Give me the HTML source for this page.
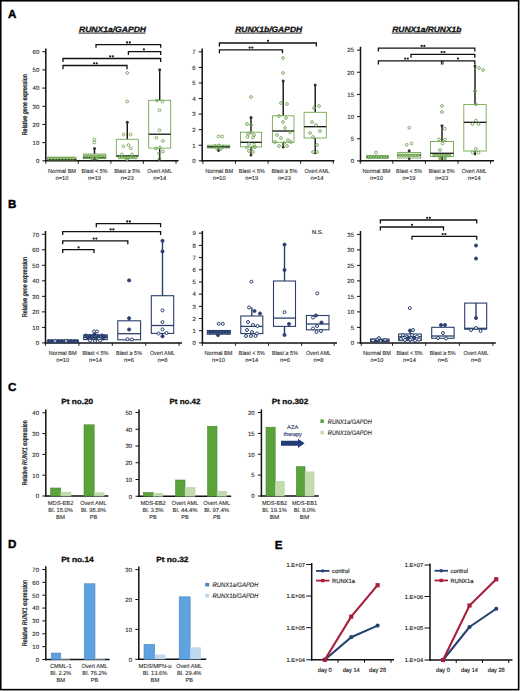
<!DOCTYPE html>
<html><head><meta charset="utf-8"><style>
html,body{margin:0;padding:0;background:#fff;}
svg{display:block;font-family:"Liberation Sans", sans-serif;text-rendering:geometricPrecision;}
</style></head><body>
<svg width="520" height="691" viewBox="0 0 520 691">
<rect width="520" height="691" fill="#fff"/>
<rect x="0.75" y="0.75" width="517.9" height="688.9" fill="none" stroke="#000" stroke-width="1.6"/>
<text x="8.00" y="18.40" font-size="11.6" text-anchor="start" fill="#000" font-weight="bold" font-style="normal" stroke="#000" stroke-width="0.4">A</text>
<text x="112.50" y="31.80" font-size="7.8" text-anchor="middle" fill="#111" font-weight="bold" font-style="italic" textLength="67" lengthAdjust="spacingAndGlyphs" stroke="#111" stroke-width="0.3">RUNX1a/GAPDH</text>
<line x1="78.50" y1="33.10" x2="145.50" y2="33.10" stroke="#111" stroke-width="0.9"/>
<line x1="45.80" y1="48.40" x2="45.80" y2="161.55" stroke="#111" stroke-width="1.5"/>
<line x1="42.30" y1="160.80" x2="45.80" y2="160.80" stroke="#111" stroke-width="1.0"/>
<text x="39.30" y="163.10" font-size="6.0" text-anchor="end" fill="#2a2a2a" font-weight="normal" font-style="normal" stroke="#2a2a2a" stroke-width="0.12">0</text>
<line x1="42.30" y1="142.62" x2="45.80" y2="142.62" stroke="#111" stroke-width="1.0"/>
<text x="39.30" y="144.92" font-size="6.0" text-anchor="end" fill="#2a2a2a" font-weight="normal" font-style="normal" stroke="#2a2a2a" stroke-width="0.12">10</text>
<line x1="42.30" y1="124.44" x2="45.80" y2="124.44" stroke="#111" stroke-width="1.0"/>
<text x="39.30" y="126.74" font-size="6.0" text-anchor="end" fill="#2a2a2a" font-weight="normal" font-style="normal" stroke="#2a2a2a" stroke-width="0.12">20</text>
<line x1="42.30" y1="106.26" x2="45.80" y2="106.26" stroke="#111" stroke-width="1.0"/>
<text x="39.30" y="108.56" font-size="6.0" text-anchor="end" fill="#2a2a2a" font-weight="normal" font-style="normal" stroke="#2a2a2a" stroke-width="0.12">30</text>
<line x1="42.30" y1="88.08" x2="45.80" y2="88.08" stroke="#111" stroke-width="1.0"/>
<text x="39.30" y="90.38" font-size="6.0" text-anchor="end" fill="#2a2a2a" font-weight="normal" font-style="normal" stroke="#2a2a2a" stroke-width="0.12">40</text>
<line x1="42.30" y1="69.90" x2="45.80" y2="69.90" stroke="#111" stroke-width="1.0"/>
<text x="39.30" y="72.20" font-size="6.0" text-anchor="end" fill="#2a2a2a" font-weight="normal" font-style="normal" stroke="#2a2a2a" stroke-width="0.12">50</text>
<line x1="42.30" y1="51.72" x2="45.80" y2="51.72" stroke="#111" stroke-width="1.0"/>
<text x="39.30" y="54.02" font-size="6.0" text-anchor="end" fill="#2a2a2a" font-weight="normal" font-style="normal" stroke="#2a2a2a" stroke-width="0.12">60</text>
<line x1="45.05" y1="160.80" x2="178.60" y2="160.80" stroke="#111" stroke-width="1.5"/>
<line x1="45.80" y1="160.80" x2="45.80" y2="163.80" stroke="#111" stroke-width="0.9"/>
<line x1="78.30" y1="160.80" x2="78.30" y2="163.80" stroke="#111" stroke-width="0.9"/>
<line x1="110.90" y1="160.80" x2="110.90" y2="163.80" stroke="#111" stroke-width="0.9"/>
<line x1="143.40" y1="160.80" x2="143.40" y2="163.80" stroke="#111" stroke-width="0.9"/>
<line x1="176.00" y1="160.80" x2="176.00" y2="163.80" stroke="#111" stroke-width="0.9"/>
<rect x="47.80" y="157.30" width="28.40" height="2.70" fill="none" stroke="#72a852" stroke-width="0.9"/>
<line x1="47.80" y1="159.60" x2="76.20" y2="159.60" stroke="#111" stroke-width="1.3"/>
<line x1="94.50" y1="148.10" x2="94.50" y2="154.00" stroke="#111" stroke-width="1.4"/>
<line x1="94.50" y1="158.60" x2="94.50" y2="160.00" stroke="#111" stroke-width="1.4"/>
<rect x="83.30" y="154.00" width="22.40" height="4.60" fill="none" stroke="#72a852" stroke-width="0.9"/>
<line x1="83.30" y1="157.50" x2="105.70" y2="157.50" stroke="#111" stroke-width="1.3"/>
<circle cx="94.50" cy="148.40" r="1.5" fill="#333"/>
<circle cx="94.50" cy="159.70" r="1.3" fill="#333"/>
<line x1="127.30" y1="122.00" x2="127.30" y2="139.30" stroke="#111" stroke-width="1.4"/>
<line x1="127.30" y1="156.00" x2="127.30" y2="160.00" stroke="#111" stroke-width="1.4"/>
<rect x="116.30" y="139.30" width="22.00" height="16.70" fill="none" stroke="#72a852" stroke-width="0.9"/>
<line x1="116.30" y1="156.00" x2="138.30" y2="156.00" stroke="#111" stroke-width="1.3"/>
<circle cx="127.30" cy="122.30" r="1.5" fill="#333"/>
<circle cx="127.30" cy="159.70" r="1.3" fill="#333"/>
<line x1="159.70" y1="69.40" x2="159.70" y2="100.30" stroke="#111" stroke-width="1.4"/>
<line x1="159.70" y1="148.10" x2="159.70" y2="159.50" stroke="#111" stroke-width="1.4"/>
<rect x="148.70" y="100.30" width="22.00" height="47.80" fill="none" stroke="#72a852" stroke-width="0.9"/>
<line x1="148.70" y1="134.20" x2="170.70" y2="134.20" stroke="#111" stroke-width="1.3"/>
<circle cx="159.70" cy="69.70" r="1.5" fill="#333"/>
<circle cx="159.70" cy="159.20" r="1.3" fill="#333"/>
<circle cx="48.50" cy="158.30" r="1.35" fill="#9ccc7c" stroke="#5f9445" stroke-width="0.8"/>
<circle cx="51.60" cy="158.30" r="1.35" fill="#9ccc7c" stroke="#5f9445" stroke-width="0.8"/>
<circle cx="54.70" cy="158.30" r="1.35" fill="#9ccc7c" stroke="#5f9445" stroke-width="0.8"/>
<circle cx="57.80" cy="158.30" r="1.35" fill="#9ccc7c" stroke="#5f9445" stroke-width="0.8"/>
<circle cx="60.90" cy="158.30" r="1.35" fill="#9ccc7c" stroke="#5f9445" stroke-width="0.8"/>
<circle cx="64.00" cy="158.30" r="1.35" fill="#9ccc7c" stroke="#5f9445" stroke-width="0.8"/>
<circle cx="67.10" cy="158.30" r="1.35" fill="#9ccc7c" stroke="#5f9445" stroke-width="0.8"/>
<circle cx="70.20" cy="158.30" r="1.35" fill="#9ccc7c" stroke="#5f9445" stroke-width="0.8"/>
<circle cx="73.30" cy="158.30" r="1.35" fill="#9ccc7c" stroke="#5f9445" stroke-width="0.8"/>
<circle cx="94.30" cy="139.50" r="1.4" fill="none" stroke="#6c9f50" stroke-width="0.85"/>
<circle cx="94.30" cy="142.50" r="1.4" fill="none" stroke="#6c9f50" stroke-width="0.85"/>
<circle cx="85.50" cy="156.30" r="1.35" fill="#9ccc7c" stroke="#5f9445" stroke-width="0.8"/>
<circle cx="88.20" cy="156.30" r="1.35" fill="#9ccc7c" stroke="#5f9445" stroke-width="0.8"/>
<circle cx="90.90" cy="156.30" r="1.35" fill="#9ccc7c" stroke="#5f9445" stroke-width="0.8"/>
<circle cx="93.60" cy="156.30" r="1.35" fill="#9ccc7c" stroke="#5f9445" stroke-width="0.8"/>
<circle cx="96.30" cy="156.30" r="1.35" fill="#9ccc7c" stroke="#5f9445" stroke-width="0.8"/>
<circle cx="99.00" cy="156.30" r="1.35" fill="#9ccc7c" stroke="#5f9445" stroke-width="0.8"/>
<circle cx="101.70" cy="156.30" r="1.35" fill="#9ccc7c" stroke="#5f9445" stroke-width="0.8"/>
<circle cx="104.40" cy="156.30" r="1.35" fill="#9ccc7c" stroke="#5f9445" stroke-width="0.8"/>
<circle cx="92.00" cy="158.50" r="1.35" fill="#9ccc7c" stroke="#5f9445" stroke-width="0.8"/>
<circle cx="97.00" cy="158.50" r="1.35" fill="#9ccc7c" stroke="#5f9445" stroke-width="0.8"/>
<circle cx="127.20" cy="72.90" r="1.4" fill="none" stroke="#6c9f50" stroke-width="0.85"/>
<circle cx="127.20" cy="101.50" r="1.4" fill="none" stroke="#6c9f50" stroke-width="0.85"/>
<circle cx="123.70" cy="134.50" r="1.4" fill="none" stroke="#6c9f50" stroke-width="0.85"/>
<circle cx="130.50" cy="134.50" r="1.4" fill="none" stroke="#6c9f50" stroke-width="0.85"/>
<circle cx="123.50" cy="146.30" r="1.4" fill="none" stroke="#6c9f50" stroke-width="0.85"/>
<circle cx="128.50" cy="145.10" r="1.4" fill="none" stroke="#6c9f50" stroke-width="0.85"/>
<circle cx="130.70" cy="148.40" r="1.4" fill="none" stroke="#6c9f50" stroke-width="0.85"/>
<circle cx="119.50" cy="157.50" r="1.35" fill="#9ccc7c" stroke="#5f9445" stroke-width="0.8"/>
<circle cx="122.20" cy="157.50" r="1.35" fill="#9ccc7c" stroke="#5f9445" stroke-width="0.8"/>
<circle cx="124.90" cy="157.50" r="1.35" fill="#9ccc7c" stroke="#5f9445" stroke-width="0.8"/>
<circle cx="127.60" cy="157.50" r="1.35" fill="#9ccc7c" stroke="#5f9445" stroke-width="0.8"/>
<circle cx="130.30" cy="157.50" r="1.35" fill="#9ccc7c" stroke="#5f9445" stroke-width="0.8"/>
<circle cx="133.00" cy="157.50" r="1.35" fill="#9ccc7c" stroke="#5f9445" stroke-width="0.8"/>
<circle cx="135.70" cy="157.50" r="1.35" fill="#9ccc7c" stroke="#5f9445" stroke-width="0.8"/>
<circle cx="122.00" cy="154.50" r="1.4" fill="none" stroke="#6c9f50" stroke-width="0.85"/>
<circle cx="132.00" cy="154.50" r="1.4" fill="none" stroke="#6c9f50" stroke-width="0.85"/>
<circle cx="127.00" cy="159.30" r="1.35" fill="#9ccc7c" stroke="#5f9445" stroke-width="0.8"/>
<circle cx="157.00" cy="100.50" r="1.4" fill="none" stroke="#6c9f50" stroke-width="0.85"/>
<circle cx="162.50" cy="101.50" r="1.4" fill="none" stroke="#6c9f50" stroke-width="0.85"/>
<circle cx="159.50" cy="110.20" r="1.4" fill="none" stroke="#6c9f50" stroke-width="0.85"/>
<circle cx="159.50" cy="130.20" r="1.4" fill="none" stroke="#6c9f50" stroke-width="0.85"/>
<circle cx="156.40" cy="137.80" r="1.4" fill="none" stroke="#6c9f50" stroke-width="0.85"/>
<circle cx="162.90" cy="140.90" r="1.4" fill="none" stroke="#6c9f50" stroke-width="0.85"/>
<circle cx="156.00" cy="148.50" r="1.4" fill="none" stroke="#6c9f50" stroke-width="0.85"/>
<circle cx="160.00" cy="147.50" r="1.4" fill="none" stroke="#6c9f50" stroke-width="0.85"/>
<circle cx="163.00" cy="151.50" r="1.4" fill="none" stroke="#6c9f50" stroke-width="0.85"/>
<circle cx="159.00" cy="153.50" r="1.4" fill="none" stroke="#6c9f50" stroke-width="0.85"/>
<circle cx="159.40" cy="159.00" r="1.4" fill="none" stroke="#6c9f50" stroke-width="0.85"/>
<path d="M96.00,47.70 V44.70 H160.70 V47.70" fill="none" stroke="#111" stroke-width="1.3"/>
<circle cx="127.05" cy="42.50" r="1.15" fill="#222"/>
<circle cx="129.75" cy="42.50" r="1.15" fill="#222"/>
<path d="M128.40,55.10 V51.60 H160.70 V55.10" fill="none" stroke="#111" stroke-width="1.3"/>
<circle cx="143.90" cy="49.40" r="1.15" fill="#222"/>
<path d="M63.00,62.00 V58.50 H160.70 V62.00" fill="none" stroke="#111" stroke-width="1.3"/>
<circle cx="110.15" cy="56.30" r="1.15" fill="#222"/>
<circle cx="112.85" cy="56.30" r="1.15" fill="#222"/>
<path d="M63.00,69.30 V65.50 H127.00 V69.30" fill="none" stroke="#111" stroke-width="1.3"/>
<circle cx="94.05" cy="63.30" r="1.15" fill="#222"/>
<circle cx="96.75" cy="63.30" r="1.15" fill="#222"/>
<text x="62.05" y="172.80" font-size="5.9" text-anchor="middle" fill="#2a2a2a" font-weight="normal" font-style="normal" textLength="28" lengthAdjust="spacingAndGlyphs" stroke="#2a2a2a" stroke-width="0.1">Normal BM</text>
<text x="62.05" y="179.70" font-size="5.9" text-anchor="middle" fill="#2a2a2a" font-weight="normal" font-style="normal" textLength="13" lengthAdjust="spacingAndGlyphs" stroke="#2a2a2a" stroke-width="0.1">n=10</text>
<text x="94.60" y="172.80" font-size="5.9" text-anchor="middle" fill="#2a2a2a" font-weight="normal" font-style="normal" textLength="26" lengthAdjust="spacingAndGlyphs" stroke="#2a2a2a" stroke-width="0.1">Blast &lt; 5%</text>
<text x="94.60" y="179.70" font-size="5.9" text-anchor="middle" fill="#2a2a2a" font-weight="normal" font-style="normal" textLength="13" lengthAdjust="spacingAndGlyphs" stroke="#2a2a2a" stroke-width="0.1">n=19</text>
<text x="127.15" y="172.80" font-size="5.9" text-anchor="middle" fill="#2a2a2a" font-weight="normal" font-style="normal" textLength="26" lengthAdjust="spacingAndGlyphs" stroke="#2a2a2a" stroke-width="0.1">Blast ≥ 5%</text>
<text x="127.15" y="179.70" font-size="5.9" text-anchor="middle" fill="#2a2a2a" font-weight="normal" font-style="normal" textLength="13" lengthAdjust="spacingAndGlyphs" stroke="#2a2a2a" stroke-width="0.1">n=23</text>
<text x="159.70" y="172.80" font-size="5.9" text-anchor="middle" fill="#2a2a2a" font-weight="normal" font-style="normal" textLength="25" lengthAdjust="spacingAndGlyphs" stroke="#2a2a2a" stroke-width="0.1">Overt AML</text>
<text x="159.70" y="179.70" font-size="5.9" text-anchor="middle" fill="#2a2a2a" font-weight="normal" font-style="normal" textLength="13" lengthAdjust="spacingAndGlyphs" stroke="#2a2a2a" stroke-width="0.1">n=14</text>
<text x="268.70" y="31.80" font-size="7.8" text-anchor="middle" fill="#111" font-weight="bold" font-style="italic" textLength="67" lengthAdjust="spacingAndGlyphs" stroke="#111" stroke-width="0.3">RUNX1b/GAPDH</text>
<line x1="234.70" y1="33.10" x2="301.70" y2="33.10" stroke="#111" stroke-width="0.9"/>
<line x1="202.20" y1="48.40" x2="202.20" y2="161.55" stroke="#111" stroke-width="1.5"/>
<line x1="198.70" y1="160.80" x2="202.20" y2="160.80" stroke="#111" stroke-width="1.0"/>
<text x="195.70" y="163.10" font-size="6.0" text-anchor="end" fill="#2a2a2a" font-weight="normal" font-style="normal" stroke="#2a2a2a" stroke-width="0.12">0</text>
<line x1="198.70" y1="145.23" x2="202.20" y2="145.23" stroke="#111" stroke-width="1.0"/>
<text x="195.70" y="147.53" font-size="6.0" text-anchor="end" fill="#2a2a2a" font-weight="normal" font-style="normal" stroke="#2a2a2a" stroke-width="0.12">1</text>
<line x1="198.70" y1="129.66" x2="202.20" y2="129.66" stroke="#111" stroke-width="1.0"/>
<text x="195.70" y="131.96" font-size="6.0" text-anchor="end" fill="#2a2a2a" font-weight="normal" font-style="normal" stroke="#2a2a2a" stroke-width="0.12">2</text>
<line x1="198.70" y1="114.09" x2="202.20" y2="114.09" stroke="#111" stroke-width="1.0"/>
<text x="195.70" y="116.39" font-size="6.0" text-anchor="end" fill="#2a2a2a" font-weight="normal" font-style="normal" stroke="#2a2a2a" stroke-width="0.12">3</text>
<line x1="198.70" y1="98.52" x2="202.20" y2="98.52" stroke="#111" stroke-width="1.0"/>
<text x="195.70" y="100.82" font-size="6.0" text-anchor="end" fill="#2a2a2a" font-weight="normal" font-style="normal" stroke="#2a2a2a" stroke-width="0.12">4</text>
<line x1="198.70" y1="82.95" x2="202.20" y2="82.95" stroke="#111" stroke-width="1.0"/>
<text x="195.70" y="85.25" font-size="6.0" text-anchor="end" fill="#2a2a2a" font-weight="normal" font-style="normal" stroke="#2a2a2a" stroke-width="0.12">5</text>
<line x1="198.70" y1="67.38" x2="202.20" y2="67.38" stroke="#111" stroke-width="1.0"/>
<text x="195.70" y="69.68" font-size="6.0" text-anchor="end" fill="#2a2a2a" font-weight="normal" font-style="normal" stroke="#2a2a2a" stroke-width="0.12">6</text>
<line x1="198.70" y1="51.81" x2="202.20" y2="51.81" stroke="#111" stroke-width="1.0"/>
<text x="195.70" y="54.11" font-size="6.0" text-anchor="end" fill="#2a2a2a" font-weight="normal" font-style="normal" stroke="#2a2a2a" stroke-width="0.12">7</text>
<line x1="201.45" y1="160.80" x2="334.40" y2="160.80" stroke="#111" stroke-width="1.5"/>
<line x1="202.90" y1="160.80" x2="202.90" y2="163.80" stroke="#111" stroke-width="0.9"/>
<line x1="235.50" y1="160.80" x2="235.50" y2="163.80" stroke="#111" stroke-width="0.9"/>
<line x1="268.10" y1="160.80" x2="268.10" y2="163.80" stroke="#111" stroke-width="0.9"/>
<line x1="300.70" y1="160.80" x2="300.70" y2="163.80" stroke="#111" stroke-width="0.9"/>
<line x1="333.30" y1="160.80" x2="333.30" y2="163.80" stroke="#111" stroke-width="0.9"/>
<line x1="218.50" y1="148.00" x2="218.50" y2="151.00" stroke="#111" stroke-width="1.4"/>
<rect x="207.30" y="145.20" width="22.40" height="2.80" fill="none" stroke="#72a852" stroke-width="0.9"/>
<line x1="207.30" y1="146.80" x2="229.70" y2="146.80" stroke="#111" stroke-width="1.3"/>
<circle cx="218.50" cy="150.70" r="1.3" fill="#333"/>
<line x1="251.00" y1="117.20" x2="251.00" y2="132.20" stroke="#111" stroke-width="1.4"/>
<line x1="251.00" y1="146.90" x2="251.00" y2="155.60" stroke="#111" stroke-width="1.4"/>
<rect x="240.50" y="132.20" width="21.00" height="14.70" fill="none" stroke="#72a852" stroke-width="0.9"/>
<line x1="240.50" y1="142.30" x2="261.50" y2="142.30" stroke="#111" stroke-width="1.3"/>
<circle cx="251.00" cy="117.50" r="1.5" fill="#333"/>
<circle cx="251.00" cy="155.30" r="1.3" fill="#333"/>
<line x1="283.20" y1="80.60" x2="283.20" y2="115.80" stroke="#111" stroke-width="1.4"/>
<line x1="283.20" y1="142.30" x2="283.20" y2="147.50" stroke="#111" stroke-width="1.4"/>
<rect x="272.40" y="115.80" width="21.60" height="26.50" fill="none" stroke="#72a852" stroke-width="0.9"/>
<line x1="272.40" y1="131.00" x2="294.00" y2="131.00" stroke="#111" stroke-width="1.3"/>
<circle cx="283.20" cy="80.90" r="1.5" fill="#333"/>
<circle cx="283.20" cy="147.20" r="1.3" fill="#333"/>
<line x1="315.20" y1="84.60" x2="315.20" y2="112.30" stroke="#111" stroke-width="1.4"/>
<line x1="315.20" y1="138.00" x2="315.20" y2="153.30" stroke="#111" stroke-width="1.4"/>
<rect x="304.10" y="112.30" width="22.20" height="25.70" fill="none" stroke="#72a852" stroke-width="0.9"/>
<line x1="304.10" y1="126.70" x2="326.30" y2="126.70" stroke="#111" stroke-width="1.3"/>
<circle cx="315.20" cy="84.90" r="1.5" fill="#333"/>
<circle cx="315.20" cy="153.00" r="1.3" fill="#333"/>
<circle cx="218.60" cy="136.50" r="1.4" fill="none" stroke="#6c9f50" stroke-width="0.85"/>
<circle cx="222.30" cy="136.50" r="1.4" fill="none" stroke="#6c9f50" stroke-width="0.85"/>
<circle cx="215.00" cy="146.00" r="1.4" fill="none" stroke="#6c9f50" stroke-width="0.85"/>
<circle cx="219.00" cy="145.50" r="1.4" fill="none" stroke="#6c9f50" stroke-width="0.85"/>
<circle cx="223.00" cy="146.50" r="1.4" fill="none" stroke="#6c9f50" stroke-width="0.85"/>
<circle cx="217.00" cy="148.50" r="1.4" fill="none" stroke="#6c9f50" stroke-width="0.85"/>
<circle cx="221.00" cy="149.00" r="1.4" fill="none" stroke="#6c9f50" stroke-width="0.85"/>
<circle cx="251.00" cy="97.00" r="1.4" fill="none" stroke="#6c9f50" stroke-width="0.85"/>
<circle cx="247.00" cy="124.00" r="1.4" fill="none" stroke="#6c9f50" stroke-width="0.85"/>
<circle cx="251.00" cy="125.00" r="1.4" fill="none" stroke="#6c9f50" stroke-width="0.85"/>
<circle cx="248.00" cy="134.00" r="1.4" fill="none" stroke="#6c9f50" stroke-width="0.85"/>
<circle cx="251.00" cy="132.50" r="1.4" fill="none" stroke="#6c9f50" stroke-width="0.85"/>
<circle cx="254.00" cy="135.00" r="1.4" fill="none" stroke="#6c9f50" stroke-width="0.85"/>
<circle cx="247.50" cy="137.00" r="1.4" fill="none" stroke="#6c9f50" stroke-width="0.85"/>
<circle cx="253.00" cy="137.50" r="1.4" fill="none" stroke="#6c9f50" stroke-width="0.85"/>
<circle cx="249.00" cy="144.00" r="1.4" fill="none" stroke="#6c9f50" stroke-width="0.85"/>
<circle cx="254.00" cy="144.50" r="1.4" fill="none" stroke="#6c9f50" stroke-width="0.85"/>
<circle cx="247.00" cy="147.50" r="1.4" fill="none" stroke="#6c9f50" stroke-width="0.85"/>
<circle cx="252.00" cy="148.00" r="1.4" fill="none" stroke="#6c9f50" stroke-width="0.85"/>
<circle cx="255.00" cy="147.00" r="1.4" fill="none" stroke="#6c9f50" stroke-width="0.85"/>
<circle cx="249.00" cy="151.00" r="1.4" fill="none" stroke="#6c9f50" stroke-width="0.85"/>
<circle cx="253.00" cy="152.00" r="1.4" fill="none" stroke="#6c9f50" stroke-width="0.85"/>
<circle cx="283.00" cy="58.00" r="1.4" fill="none" stroke="#6c9f50" stroke-width="0.85"/>
<circle cx="283.00" cy="73.00" r="1.4" fill="none" stroke="#6c9f50" stroke-width="0.85"/>
<circle cx="281.00" cy="103.00" r="1.4" fill="none" stroke="#6c9f50" stroke-width="0.85"/>
<circle cx="287.00" cy="104.00" r="1.4" fill="none" stroke="#6c9f50" stroke-width="0.85"/>
<circle cx="279.00" cy="116.00" r="1.4" fill="none" stroke="#6c9f50" stroke-width="0.85"/>
<circle cx="286.00" cy="118.00" r="1.4" fill="none" stroke="#6c9f50" stroke-width="0.85"/>
<circle cx="283.00" cy="122.00" r="1.4" fill="none" stroke="#6c9f50" stroke-width="0.85"/>
<circle cx="285.00" cy="128.00" r="1.4" fill="none" stroke="#6c9f50" stroke-width="0.85"/>
<circle cx="277.00" cy="135.00" r="1.4" fill="none" stroke="#6c9f50" stroke-width="0.85"/>
<circle cx="290.00" cy="132.00" r="1.4" fill="none" stroke="#6c9f50" stroke-width="0.85"/>
<circle cx="281.00" cy="138.00" r="1.4" fill="none" stroke="#6c9f50" stroke-width="0.85"/>
<circle cx="288.00" cy="140.00" r="1.4" fill="none" stroke="#6c9f50" stroke-width="0.85"/>
<circle cx="275.00" cy="142.00" r="1.4" fill="none" stroke="#6c9f50" stroke-width="0.85"/>
<circle cx="284.00" cy="143.00" r="1.4" fill="none" stroke="#6c9f50" stroke-width="0.85"/>
<circle cx="291.00" cy="142.00" r="1.4" fill="none" stroke="#6c9f50" stroke-width="0.85"/>
<circle cx="279.00" cy="146.00" r="1.4" fill="none" stroke="#6c9f50" stroke-width="0.85"/>
<circle cx="287.00" cy="146.00" r="1.4" fill="none" stroke="#6c9f50" stroke-width="0.85"/>
<circle cx="314.00" cy="108.00" r="1.4" fill="none" stroke="#6c9f50" stroke-width="0.85"/>
<circle cx="319.00" cy="106.00" r="1.4" fill="none" stroke="#6c9f50" stroke-width="0.85"/>
<circle cx="312.00" cy="122.00" r="1.4" fill="none" stroke="#6c9f50" stroke-width="0.85"/>
<circle cx="316.00" cy="125.00" r="1.4" fill="none" stroke="#6c9f50" stroke-width="0.85"/>
<circle cx="310.00" cy="133.00" r="1.4" fill="none" stroke="#6c9f50" stroke-width="0.85"/>
<circle cx="320.00" cy="131.00" r="1.4" fill="none" stroke="#6c9f50" stroke-width="0.85"/>
<circle cx="313.00" cy="137.00" r="1.4" fill="none" stroke="#6c9f50" stroke-width="0.85"/>
<circle cx="317.00" cy="145.00" r="1.4" fill="none" stroke="#6c9f50" stroke-width="0.85"/>
<circle cx="313.00" cy="152.00" r="1.4" fill="none" stroke="#6c9f50" stroke-width="0.85"/>
<circle cx="317.00" cy="152.00" r="1.4" fill="none" stroke="#6c9f50" stroke-width="0.85"/>
<path d="M219.40,46.50 V43.00 H316.30 V46.50" fill="none" stroke="#111" stroke-width="1.3"/>
<circle cx="268.00" cy="40.80" r="1.15" fill="#222"/>
<path d="M219.40,53.30 V49.80 H282.50 V53.30" fill="none" stroke="#111" stroke-width="1.3"/>
<circle cx="249.65" cy="47.60" r="1.15" fill="#222"/>
<circle cx="252.35" cy="47.60" r="1.15" fill="#222"/>
<text x="219.20" y="172.80" font-size="5.9" text-anchor="middle" fill="#2a2a2a" font-weight="normal" font-style="normal" textLength="28" lengthAdjust="spacingAndGlyphs" stroke="#2a2a2a" stroke-width="0.1">Normal BM</text>
<text x="219.20" y="179.70" font-size="5.9" text-anchor="middle" fill="#2a2a2a" font-weight="normal" font-style="normal" textLength="13" lengthAdjust="spacingAndGlyphs" stroke="#2a2a2a" stroke-width="0.1">n=10</text>
<text x="251.80" y="172.80" font-size="5.9" text-anchor="middle" fill="#2a2a2a" font-weight="normal" font-style="normal" textLength="26" lengthAdjust="spacingAndGlyphs" stroke="#2a2a2a" stroke-width="0.1">Blast &lt; 5%</text>
<text x="251.80" y="179.70" font-size="5.9" text-anchor="middle" fill="#2a2a2a" font-weight="normal" font-style="normal" textLength="13" lengthAdjust="spacingAndGlyphs" stroke="#2a2a2a" stroke-width="0.1">n=19</text>
<text x="284.40" y="172.80" font-size="5.9" text-anchor="middle" fill="#2a2a2a" font-weight="normal" font-style="normal" textLength="26" lengthAdjust="spacingAndGlyphs" stroke="#2a2a2a" stroke-width="0.1">Blast ≥ 5%</text>
<text x="284.40" y="179.70" font-size="5.9" text-anchor="middle" fill="#2a2a2a" font-weight="normal" font-style="normal" textLength="13" lengthAdjust="spacingAndGlyphs" stroke="#2a2a2a" stroke-width="0.1">n=23</text>
<text x="317.00" y="172.80" font-size="5.9" text-anchor="middle" fill="#2a2a2a" font-weight="normal" font-style="normal" textLength="25" lengthAdjust="spacingAndGlyphs" stroke="#2a2a2a" stroke-width="0.1">Overt AML</text>
<text x="317.00" y="179.70" font-size="5.9" text-anchor="middle" fill="#2a2a2a" font-weight="normal" font-style="normal" textLength="13" lengthAdjust="spacingAndGlyphs" stroke="#2a2a2a" stroke-width="0.1">n=14</text>
<text x="426.80" y="31.80" font-size="7.8" text-anchor="middle" fill="#111" font-weight="bold" font-style="italic" textLength="69" lengthAdjust="spacingAndGlyphs" stroke="#111" stroke-width="0.3">RUNX1a/RUNX1b</text>
<line x1="391.80" y1="33.10" x2="460.80" y2="33.10" stroke="#111" stroke-width="0.9"/>
<line x1="360.50" y1="46.70" x2="360.50" y2="161.55" stroke="#111" stroke-width="1.5"/>
<line x1="357.00" y1="160.90" x2="360.50" y2="160.90" stroke="#111" stroke-width="1.0"/>
<text x="354.00" y="163.20" font-size="6.0" text-anchor="end" fill="#2a2a2a" font-weight="normal" font-style="normal" stroke="#2a2a2a" stroke-width="0.12">0</text>
<line x1="357.00" y1="138.74" x2="360.50" y2="138.74" stroke="#111" stroke-width="1.0"/>
<text x="354.00" y="141.04" font-size="6.0" text-anchor="end" fill="#2a2a2a" font-weight="normal" font-style="normal" stroke="#2a2a2a" stroke-width="0.12">5</text>
<line x1="357.00" y1="116.58" x2="360.50" y2="116.58" stroke="#111" stroke-width="1.0"/>
<text x="354.00" y="118.88" font-size="6.0" text-anchor="end" fill="#2a2a2a" font-weight="normal" font-style="normal" stroke="#2a2a2a" stroke-width="0.12">10</text>
<line x1="357.00" y1="94.42" x2="360.50" y2="94.42" stroke="#111" stroke-width="1.0"/>
<text x="354.00" y="96.72" font-size="6.0" text-anchor="end" fill="#2a2a2a" font-weight="normal" font-style="normal" stroke="#2a2a2a" stroke-width="0.12">15</text>
<line x1="357.00" y1="72.26" x2="360.50" y2="72.26" stroke="#111" stroke-width="1.0"/>
<text x="354.00" y="74.56" font-size="6.0" text-anchor="end" fill="#2a2a2a" font-weight="normal" font-style="normal" stroke="#2a2a2a" stroke-width="0.12">20</text>
<line x1="357.00" y1="50.10" x2="360.50" y2="50.10" stroke="#111" stroke-width="1.0"/>
<text x="354.00" y="52.40" font-size="6.0" text-anchor="end" fill="#2a2a2a" font-weight="normal" font-style="normal" stroke="#2a2a2a" stroke-width="0.12">25</text>
<line x1="359.75" y1="160.80" x2="494.00" y2="160.80" stroke="#111" stroke-width="1.5"/>
<line x1="360.30" y1="160.80" x2="360.30" y2="163.80" stroke="#111" stroke-width="0.9"/>
<line x1="392.80" y1="160.80" x2="392.80" y2="163.80" stroke="#111" stroke-width="0.9"/>
<line x1="425.40" y1="160.80" x2="425.40" y2="163.80" stroke="#111" stroke-width="0.9"/>
<line x1="458.00" y1="160.80" x2="458.00" y2="163.80" stroke="#111" stroke-width="0.9"/>
<line x1="490.60" y1="160.80" x2="490.60" y2="163.80" stroke="#111" stroke-width="0.9"/>
<rect x="366.70" y="155.40" width="21.60" height="2.80" fill="none" stroke="#72a852" stroke-width="0.9"/>
<line x1="366.70" y1="157.00" x2="388.30" y2="157.00" stroke="#111" stroke-width="1.3"/>
<line x1="409.20" y1="150.40" x2="409.20" y2="152.50" stroke="#111" stroke-width="1.4"/>
<line x1="409.20" y1="158.00" x2="409.20" y2="159.00" stroke="#111" stroke-width="1.4"/>
<rect x="397.70" y="152.50" width="23.00" height="5.50" fill="none" stroke="#72a852" stroke-width="0.9"/>
<line x1="397.70" y1="155.20" x2="420.70" y2="155.20" stroke="#111" stroke-width="1.3"/>
<circle cx="409.20" cy="150.70" r="1.5" fill="#333"/>
<circle cx="409.20" cy="158.70" r="1.3" fill="#333"/>
<line x1="442.00" y1="125.40" x2="442.00" y2="141.50" stroke="#111" stroke-width="1.4"/>
<line x1="442.00" y1="156.50" x2="442.00" y2="159.00" stroke="#111" stroke-width="1.4"/>
<rect x="430.50" y="141.50" width="23.00" height="15.00" fill="none" stroke="#72a852" stroke-width="0.9"/>
<line x1="430.50" y1="153.30" x2="453.50" y2="153.30" stroke="#111" stroke-width="1.3"/>
<circle cx="442.00" cy="125.70" r="1.5" fill="#333"/>
<circle cx="442.00" cy="158.70" r="1.3" fill="#333"/>
<line x1="475.00" y1="65.60" x2="475.00" y2="104.60" stroke="#111" stroke-width="1.4"/>
<line x1="475.00" y1="151.00" x2="475.00" y2="154.40" stroke="#111" stroke-width="1.4"/>
<rect x="463.80" y="104.60" width="22.40" height="46.40" fill="none" stroke="#72a852" stroke-width="0.9"/>
<line x1="463.80" y1="122.30" x2="486.20" y2="122.30" stroke="#111" stroke-width="1.3"/>
<circle cx="475.00" cy="65.90" r="1.5" fill="#333"/>
<circle cx="475.00" cy="154.10" r="1.3" fill="#333"/>
<circle cx="376.00" cy="152.50" r="1.4" fill="none" stroke="#6c9f50" stroke-width="0.85"/>
<circle cx="368.50" cy="157.00" r="1.35" fill="#9ccc7c" stroke="#5f9445" stroke-width="0.8"/>
<circle cx="371.10" cy="157.00" r="1.35" fill="#9ccc7c" stroke="#5f9445" stroke-width="0.8"/>
<circle cx="373.70" cy="157.00" r="1.35" fill="#9ccc7c" stroke="#5f9445" stroke-width="0.8"/>
<circle cx="376.30" cy="157.00" r="1.35" fill="#9ccc7c" stroke="#5f9445" stroke-width="0.8"/>
<circle cx="378.90" cy="157.00" r="1.35" fill="#9ccc7c" stroke="#5f9445" stroke-width="0.8"/>
<circle cx="381.50" cy="157.00" r="1.35" fill="#9ccc7c" stroke="#5f9445" stroke-width="0.8"/>
<circle cx="384.10" cy="157.00" r="1.35" fill="#9ccc7c" stroke="#5f9445" stroke-width="0.8"/>
<circle cx="386.70" cy="157.00" r="1.35" fill="#9ccc7c" stroke="#5f9445" stroke-width="0.8"/>
<circle cx="409.30" cy="127.80" r="1.4" fill="none" stroke="#6c9f50" stroke-width="0.85"/>
<circle cx="406.70" cy="144.80" r="1.4" fill="none" stroke="#6c9f50" stroke-width="0.85"/>
<circle cx="411.50" cy="143.50" r="1.4" fill="none" stroke="#6c9f50" stroke-width="0.85"/>
<circle cx="400.00" cy="155.30" r="1.35" fill="#9ccc7c" stroke="#5f9445" stroke-width="0.8"/>
<circle cx="402.60" cy="155.30" r="1.35" fill="#9ccc7c" stroke="#5f9445" stroke-width="0.8"/>
<circle cx="405.20" cy="155.30" r="1.35" fill="#9ccc7c" stroke="#5f9445" stroke-width="0.8"/>
<circle cx="407.80" cy="155.30" r="1.35" fill="#9ccc7c" stroke="#5f9445" stroke-width="0.8"/>
<circle cx="410.40" cy="155.30" r="1.35" fill="#9ccc7c" stroke="#5f9445" stroke-width="0.8"/>
<circle cx="413.00" cy="155.30" r="1.35" fill="#9ccc7c" stroke="#5f9445" stroke-width="0.8"/>
<circle cx="415.60" cy="155.30" r="1.35" fill="#9ccc7c" stroke="#5f9445" stroke-width="0.8"/>
<circle cx="418.20" cy="155.30" r="1.35" fill="#9ccc7c" stroke="#5f9445" stroke-width="0.8"/>
<circle cx="442.00" cy="106.00" r="1.4" fill="none" stroke="#6c9f50" stroke-width="0.85"/>
<circle cx="442.00" cy="112.00" r="1.4" fill="none" stroke="#6c9f50" stroke-width="0.85"/>
<circle cx="444.80" cy="128.70" r="1.4" fill="none" stroke="#6c9f50" stroke-width="0.85"/>
<circle cx="439.00" cy="139.40" r="1.4" fill="none" stroke="#6c9f50" stroke-width="0.85"/>
<circle cx="445.00" cy="139.50" r="1.4" fill="none" stroke="#6c9f50" stroke-width="0.85"/>
<circle cx="442.50" cy="143.50" r="1.4" fill="none" stroke="#6c9f50" stroke-width="0.85"/>
<circle cx="440.00" cy="150.00" r="1.4" fill="none" stroke="#6c9f50" stroke-width="0.85"/>
<circle cx="434.00" cy="155.50" r="1.35" fill="#9ccc7c" stroke="#5f9445" stroke-width="0.8"/>
<circle cx="436.60" cy="155.50" r="1.35" fill="#9ccc7c" stroke="#5f9445" stroke-width="0.8"/>
<circle cx="439.20" cy="155.50" r="1.35" fill="#9ccc7c" stroke="#5f9445" stroke-width="0.8"/>
<circle cx="441.80" cy="155.50" r="1.35" fill="#9ccc7c" stroke="#5f9445" stroke-width="0.8"/>
<circle cx="444.40" cy="155.50" r="1.35" fill="#9ccc7c" stroke="#5f9445" stroke-width="0.8"/>
<circle cx="447.00" cy="155.50" r="1.35" fill="#9ccc7c" stroke="#5f9445" stroke-width="0.8"/>
<circle cx="449.60" cy="155.50" r="1.35" fill="#9ccc7c" stroke="#5f9445" stroke-width="0.8"/>
<circle cx="440.00" cy="158.50" r="1.35" fill="#9ccc7c" stroke="#5f9445" stroke-width="0.8"/>
<circle cx="445.00" cy="158.50" r="1.35" fill="#9ccc7c" stroke="#5f9445" stroke-width="0.8"/>
<circle cx="479.00" cy="68.00" r="1.4" fill="none" stroke="#6c9f50" stroke-width="0.85"/>
<circle cx="483.00" cy="70.00" r="1.4" fill="none" stroke="#6c9f50" stroke-width="0.85"/>
<circle cx="475.00" cy="91.00" r="1.4" fill="none" stroke="#6c9f50" stroke-width="0.85"/>
<circle cx="475.80" cy="104.40" r="1.4" fill="none" stroke="#6c9f50" stroke-width="0.85"/>
<circle cx="475.80" cy="120.60" r="1.4" fill="none" stroke="#6c9f50" stroke-width="0.85"/>
<circle cx="472.50" cy="124.00" r="1.4" fill="none" stroke="#6c9f50" stroke-width="0.85"/>
<circle cx="478.50" cy="124.00" r="1.4" fill="none" stroke="#6c9f50" stroke-width="0.85"/>
<circle cx="475.80" cy="148.90" r="1.4" fill="none" stroke="#6c9f50" stroke-width="0.85"/>
<circle cx="472.50" cy="152.50" r="1.4" fill="none" stroke="#6c9f50" stroke-width="0.85"/>
<circle cx="478.50" cy="152.50" r="1.4" fill="none" stroke="#6c9f50" stroke-width="0.85"/>
<path d="M378.40,51.60 V48.10 H474.80 V51.60" fill="none" stroke="#111" stroke-width="1.3"/>
<circle cx="421.65" cy="45.90" r="1.15" fill="#222"/>
<circle cx="424.35" cy="45.90" r="1.15" fill="#222"/>
<path d="M411.00,57.80 V54.30 H474.80 V57.80" fill="none" stroke="#111" stroke-width="1.3"/>
<circle cx="441.65" cy="52.10" r="1.15" fill="#222"/>
<circle cx="444.35" cy="52.10" r="1.15" fill="#222"/>
<path d="M378.40,64.60 V60.80 H474.80 V64.60" fill="none" stroke="#111" stroke-width="1.3"/>
<text x="376.55" y="172.80" font-size="5.9" text-anchor="middle" fill="#2a2a2a" font-weight="normal" font-style="normal" textLength="28" lengthAdjust="spacingAndGlyphs" stroke="#2a2a2a" stroke-width="0.1">Normal BM</text>
<text x="376.55" y="179.70" font-size="5.9" text-anchor="middle" fill="#2a2a2a" font-weight="normal" font-style="normal" textLength="13" lengthAdjust="spacingAndGlyphs" stroke="#2a2a2a" stroke-width="0.1">n=10</text>
<text x="409.10" y="172.80" font-size="5.9" text-anchor="middle" fill="#2a2a2a" font-weight="normal" font-style="normal" textLength="26" lengthAdjust="spacingAndGlyphs" stroke="#2a2a2a" stroke-width="0.1">Blast &lt; 5%</text>
<text x="409.10" y="179.70" font-size="5.9" text-anchor="middle" fill="#2a2a2a" font-weight="normal" font-style="normal" textLength="13" lengthAdjust="spacingAndGlyphs" stroke="#2a2a2a" stroke-width="0.1">n=19</text>
<text x="441.70" y="172.80" font-size="5.9" text-anchor="middle" fill="#2a2a2a" font-weight="normal" font-style="normal" textLength="26" lengthAdjust="spacingAndGlyphs" stroke="#2a2a2a" stroke-width="0.1">Blast ≥ 5%</text>
<text x="441.70" y="179.70" font-size="5.9" text-anchor="middle" fill="#2a2a2a" font-weight="normal" font-style="normal" textLength="13" lengthAdjust="spacingAndGlyphs" stroke="#2a2a2a" stroke-width="0.1">n=23</text>
<text x="474.30" y="172.80" font-size="5.9" text-anchor="middle" fill="#2a2a2a" font-weight="normal" font-style="normal" textLength="25" lengthAdjust="spacingAndGlyphs" stroke="#2a2a2a" stroke-width="0.1">Overt AML</text>
<text x="474.30" y="179.70" font-size="5.9" text-anchor="middle" fill="#2a2a2a" font-weight="normal" font-style="normal" textLength="13" lengthAdjust="spacingAndGlyphs" stroke="#2a2a2a" stroke-width="0.1">n=14</text>
<line x1="441.40" y1="60.80" x2="441.40" y2="64.60" stroke="#111" stroke-width="1.0"/>
<line x1="443.00" y1="60.80" x2="443.00" y2="64.60" stroke="#111" stroke-width="1.0"/>
<circle cx="405.15" cy="58.60" r="1.15" fill="#222"/>
<circle cx="407.85" cy="58.60" r="1.15" fill="#222"/>
<circle cx="458.00" cy="58.60" r="1.15" fill="#222"/>
<text transform="translate(26.50,104.80) rotate(-90)" x="0" y="0" font-size="6.8" text-anchor="middle" fill="#222" stroke="#222" stroke-width="0.3" textLength="61" lengthAdjust="spacingAndGlyphs"><tspan font-style="normal">Relative </tspan><tspan font-style="italic">gene</tspan><tspan font-style="normal"> expression</tspan></text>
<text x="8.00" y="208.40" font-size="11.6" text-anchor="start" fill="#000" font-weight="bold" font-style="normal" stroke="#000" stroke-width="0.4">B</text>
<line x1="45.50" y1="231.00" x2="45.50" y2="343.65" stroke="#111" stroke-width="1.5"/>
<line x1="42.00" y1="342.90" x2="45.50" y2="342.90" stroke="#111" stroke-width="1.0"/>
<text x="39.00" y="345.20" font-size="6.0" text-anchor="end" fill="#2a2a2a" font-weight="normal" font-style="normal" stroke="#2a2a2a" stroke-width="0.12">0</text>
<line x1="42.00" y1="327.38" x2="45.50" y2="327.38" stroke="#111" stroke-width="1.0"/>
<text x="39.00" y="329.68" font-size="6.0" text-anchor="end" fill="#2a2a2a" font-weight="normal" font-style="normal" stroke="#2a2a2a" stroke-width="0.12">10</text>
<line x1="42.00" y1="311.86" x2="45.50" y2="311.86" stroke="#111" stroke-width="1.0"/>
<text x="39.00" y="314.16" font-size="6.0" text-anchor="end" fill="#2a2a2a" font-weight="normal" font-style="normal" stroke="#2a2a2a" stroke-width="0.12">20</text>
<line x1="42.00" y1="296.34" x2="45.50" y2="296.34" stroke="#111" stroke-width="1.0"/>
<text x="39.00" y="298.64" font-size="6.0" text-anchor="end" fill="#2a2a2a" font-weight="normal" font-style="normal" stroke="#2a2a2a" stroke-width="0.12">30</text>
<line x1="42.00" y1="280.82" x2="45.50" y2="280.82" stroke="#111" stroke-width="1.0"/>
<text x="39.00" y="283.12" font-size="6.0" text-anchor="end" fill="#2a2a2a" font-weight="normal" font-style="normal" stroke="#2a2a2a" stroke-width="0.12">40</text>
<line x1="42.00" y1="265.30" x2="45.50" y2="265.30" stroke="#111" stroke-width="1.0"/>
<text x="39.00" y="267.60" font-size="6.0" text-anchor="end" fill="#2a2a2a" font-weight="normal" font-style="normal" stroke="#2a2a2a" stroke-width="0.12">50</text>
<line x1="42.00" y1="249.78" x2="45.50" y2="249.78" stroke="#111" stroke-width="1.0"/>
<text x="39.00" y="252.08" font-size="6.0" text-anchor="end" fill="#2a2a2a" font-weight="normal" font-style="normal" stroke="#2a2a2a" stroke-width="0.12">60</text>
<line x1="42.00" y1="234.26" x2="45.50" y2="234.26" stroke="#111" stroke-width="1.0"/>
<text x="39.00" y="236.56" font-size="6.0" text-anchor="end" fill="#2a2a2a" font-weight="normal" font-style="normal" stroke="#2a2a2a" stroke-width="0.12">70</text>
<line x1="44.75" y1="342.90" x2="182.00" y2="342.90" stroke="#111" stroke-width="1.5"/>
<line x1="45.50" y1="342.90" x2="45.50" y2="345.90" stroke="#111" stroke-width="0.9"/>
<line x1="78.90" y1="342.90" x2="78.90" y2="345.90" stroke="#111" stroke-width="0.9"/>
<line x1="112.30" y1="342.90" x2="112.30" y2="345.90" stroke="#111" stroke-width="0.9"/>
<line x1="145.70" y1="342.90" x2="145.70" y2="345.90" stroke="#111" stroke-width="0.9"/>
<line x1="179.10" y1="342.90" x2="179.10" y2="345.90" stroke="#111" stroke-width="0.9"/>
<rect x="48.20" y="340.00" width="28.00" height="2.50" fill="none" stroke="#2a3f6e" stroke-width="1.1"/>
<line x1="48.20" y1="341.50" x2="76.20" y2="341.50" stroke="#2a3f6e" stroke-width="1.3"/>
<line x1="95.50" y1="331.50" x2="95.50" y2="334.90" stroke="#2a3f6e" stroke-width="1.4"/>
<line x1="95.50" y1="339.60" x2="95.50" y2="342.00" stroke="#2a3f6e" stroke-width="1.4"/>
<rect x="83.70" y="334.90" width="23.60" height="4.70" fill="none" stroke="#2a3f6e" stroke-width="1.1"/>
<line x1="83.70" y1="337.50" x2="107.30" y2="337.50" stroke="#2a3f6e" stroke-width="1.3"/>
<line x1="129.20" y1="318.20" x2="129.20" y2="320.80" stroke="#2a3f6e" stroke-width="1.4"/>
<rect x="117.80" y="320.80" width="22.80" height="19.00" fill="none" stroke="#2a3f6e" stroke-width="1.1"/>
<line x1="117.80" y1="333.70" x2="140.60" y2="333.70" stroke="#2a3f6e" stroke-width="1.3"/>
<line x1="162.50" y1="240.80" x2="162.50" y2="295.70" stroke="#2a3f6e" stroke-width="1.4"/>
<line x1="162.50" y1="333.40" x2="162.50" y2="336.30" stroke="#2a3f6e" stroke-width="1.4"/>
<rect x="151.30" y="295.70" width="22.40" height="37.70" fill="none" stroke="#2a3f6e" stroke-width="1.1"/>
<line x1="151.30" y1="325.50" x2="173.70" y2="325.50" stroke="#2a3f6e" stroke-width="1.3"/>
<circle cx="48.50" cy="341.00" r="1.45" fill="#2a3f6e" stroke="#2a3f6e" stroke-width="0.8"/>
<circle cx="51.70" cy="341.00" r="1.45" fill="#2a3f6e" stroke="#2a3f6e" stroke-width="0.8"/>
<circle cx="54.90" cy="341.00" r="1.45" fill="#2a3f6e" stroke="#2a3f6e" stroke-width="0.8"/>
<circle cx="58.10" cy="341.00" r="1.45" fill="#2a3f6e" stroke="#2a3f6e" stroke-width="0.8"/>
<circle cx="61.30" cy="341.00" r="1.45" fill="#2a3f6e" stroke="#2a3f6e" stroke-width="0.8"/>
<circle cx="64.50" cy="341.00" r="1.45" fill="#2a3f6e" stroke="#2a3f6e" stroke-width="0.8"/>
<circle cx="67.70" cy="341.00" r="1.45" fill="#2a3f6e" stroke="#2a3f6e" stroke-width="0.8"/>
<circle cx="70.90" cy="341.00" r="1.45" fill="#2a3f6e" stroke="#2a3f6e" stroke-width="0.8"/>
<circle cx="74.10" cy="341.00" r="1.45" fill="#2a3f6e" stroke="#2a3f6e" stroke-width="0.8"/>
<circle cx="77.30" cy="341.00" r="1.45" fill="#2a3f6e" stroke="#2a3f6e" stroke-width="0.8"/>
<circle cx="55.00" cy="341.00" r="1.45" fill="#fff" stroke="#2a3f6e" stroke-width="1.0"/>
<circle cx="66.00" cy="341.00" r="1.45" fill="#fff" stroke="#2a3f6e" stroke-width="1.0"/>
<circle cx="94.00" cy="331.50" r="1.5" fill="#fff" stroke="#2a3f6e" stroke-width="1.0"/>
<circle cx="97.00" cy="331.50" r="1.5" fill="#fff" stroke="#2a3f6e" stroke-width="1.0"/>
<circle cx="86.00" cy="335.50" r="1.6" fill="#2a3f6e" stroke="#2a3f6e" stroke-width="0.8"/>
<circle cx="90.00" cy="336.00" r="1.6" fill="#2a3f6e" stroke="#2a3f6e" stroke-width="0.8"/>
<circle cx="94.00" cy="335.00" r="1.6" fill="#2a3f6e" stroke="#2a3f6e" stroke-width="0.8"/>
<circle cx="98.00" cy="336.00" r="1.6" fill="#2a3f6e" stroke="#2a3f6e" stroke-width="0.8"/>
<circle cx="102.00" cy="335.50" r="1.6" fill="#2a3f6e" stroke="#2a3f6e" stroke-width="0.8"/>
<circle cx="105.00" cy="336.50" r="1.6" fill="#2a3f6e" stroke="#2a3f6e" stroke-width="0.8"/>
<circle cx="88.00" cy="338.00" r="1.6" fill="#2a3f6e" stroke="#2a3f6e" stroke-width="0.8"/>
<circle cx="96.00" cy="338.00" r="1.6" fill="#2a3f6e" stroke="#2a3f6e" stroke-width="0.8"/>
<circle cx="103.00" cy="338.50" r="1.6" fill="#2a3f6e" stroke="#2a3f6e" stroke-width="0.8"/>
<circle cx="92.00" cy="337.50" r="1.6" fill="#2a3f6e" stroke="#2a3f6e" stroke-width="0.8"/>
<circle cx="90.00" cy="340.50" r="1.5" fill="#fff" stroke="#2a3f6e" stroke-width="1.0"/>
<circle cx="95.00" cy="341.00" r="1.5" fill="#fff" stroke="#2a3f6e" stroke-width="1.0"/>
<circle cx="100.00" cy="340.50" r="1.5" fill="#fff" stroke="#2a3f6e" stroke-width="1.0"/>
<circle cx="129.10" cy="280.40" r="1.6" fill="#2a3f6e" stroke="#2a3f6e" stroke-width="0.8"/>
<circle cx="129.10" cy="318.20" r="1.6" fill="#2a3f6e" stroke="#2a3f6e" stroke-width="0.8"/>
<circle cx="129.10" cy="329.50" r="1.6" fill="#2a3f6e" stroke="#2a3f6e" stroke-width="0.8"/>
<circle cx="127.50" cy="339.20" r="1.5" fill="#fff" stroke="#2a3f6e" stroke-width="1.0"/>
<circle cx="132.00" cy="339.50" r="1.5" fill="#fff" stroke="#2a3f6e" stroke-width="1.0"/>
<circle cx="162.50" cy="240.80" r="1.6" fill="#2a3f6e" stroke="#2a3f6e" stroke-width="0.8"/>
<circle cx="162.50" cy="251.40" r="1.6" fill="#2a3f6e" stroke="#2a3f6e" stroke-width="0.8"/>
<circle cx="162.50" cy="310.40" r="1.5" fill="#fff" stroke="#2a3f6e" stroke-width="1.0"/>
<circle cx="162.50" cy="322.10" r="1.5" fill="#fff" stroke="#2a3f6e" stroke-width="1.0"/>
<circle cx="162.50" cy="329.40" r="1.5" fill="#fff" stroke="#2a3f6e" stroke-width="1.0"/>
<circle cx="158.50" cy="333.50" r="1.5" fill="#fff" stroke="#2a3f6e" stroke-width="1.0"/>
<circle cx="166.50" cy="333.00" r="1.5" fill="#fff" stroke="#2a3f6e" stroke-width="1.0"/>
<circle cx="162.50" cy="336.30" r="1.6" fill="#2a3f6e" stroke="#2a3f6e" stroke-width="0.8"/>
<path d="M96.30,227.20 V223.70 H160.60 V227.20" fill="none" stroke="#111" stroke-width="1.3"/>
<circle cx="127.15" cy="221.50" r="1.15" fill="#222"/>
<circle cx="129.85" cy="221.50" r="1.15" fill="#222"/>
<path d="M62.70,235.10 V231.60 H160.60 V235.10" fill="none" stroke="#111" stroke-width="1.3"/>
<circle cx="110.65" cy="229.40" r="1.15" fill="#222"/>
<circle cx="113.35" cy="229.40" r="1.15" fill="#222"/>
<path d="M62.70,244.30 V240.80 H127.80 V244.30" fill="none" stroke="#111" stroke-width="1.3"/>
<circle cx="93.65" cy="238.60" r="1.15" fill="#222"/>
<circle cx="96.35" cy="238.60" r="1.15" fill="#222"/>
<path d="M62.70,253.10 V249.60 H94.00 V253.10" fill="none" stroke="#111" stroke-width="1.3"/>
<circle cx="78.60" cy="247.40" r="1.15" fill="#222"/>
<text x="62.70" y="355.20" font-size="5.9" text-anchor="middle" fill="#2a2a2a" font-weight="normal" font-style="normal" textLength="28" lengthAdjust="spacingAndGlyphs" stroke="#2a2a2a" stroke-width="0.1">Normal BM</text>
<text x="62.70" y="362.10" font-size="5.9" text-anchor="middle" fill="#2a2a2a" font-weight="normal" font-style="normal" textLength="13" lengthAdjust="spacingAndGlyphs" stroke="#2a2a2a" stroke-width="0.1">n=10</text>
<text x="95.50" y="355.20" font-size="5.9" text-anchor="middle" fill="#2a2a2a" font-weight="normal" font-style="normal" textLength="26" lengthAdjust="spacingAndGlyphs" stroke="#2a2a2a" stroke-width="0.1">Blast &lt; 5%</text>
<text x="95.50" y="362.10" font-size="5.9" text-anchor="middle" fill="#2a2a2a" font-weight="normal" font-style="normal" textLength="13" lengthAdjust="spacingAndGlyphs" stroke="#2a2a2a" stroke-width="0.1">n=14</text>
<text x="129.00" y="355.20" font-size="5.9" text-anchor="middle" fill="#2a2a2a" font-weight="normal" font-style="normal" textLength="26" lengthAdjust="spacingAndGlyphs" stroke="#2a2a2a" stroke-width="0.1">Blast ≥ 5%</text>
<text x="129.00" y="362.10" font-size="5.9" text-anchor="middle" fill="#2a2a2a" font-weight="normal" font-style="normal" textLength="10" lengthAdjust="spacingAndGlyphs" stroke="#2a2a2a" stroke-width="0.1">n=6</text>
<text x="162.50" y="355.20" font-size="5.9" text-anchor="middle" fill="#2a2a2a" font-weight="normal" font-style="normal" textLength="25" lengthAdjust="spacingAndGlyphs" stroke="#2a2a2a" stroke-width="0.1">Overt AML</text>
<text x="162.50" y="362.10" font-size="5.9" text-anchor="middle" fill="#2a2a2a" font-weight="normal" font-style="normal" textLength="10" lengthAdjust="spacingAndGlyphs" stroke="#2a2a2a" stroke-width="0.1">n=8</text>
<line x1="202.40" y1="231.00" x2="202.40" y2="343.65" stroke="#111" stroke-width="1.5"/>
<line x1="198.90" y1="342.90" x2="202.40" y2="342.90" stroke="#111" stroke-width="1.0"/>
<text x="195.90" y="345.20" font-size="6.0" text-anchor="end" fill="#2a2a2a" font-weight="normal" font-style="normal" stroke="#2a2a2a" stroke-width="0.12">0</text>
<line x1="198.90" y1="330.71" x2="202.40" y2="330.71" stroke="#111" stroke-width="1.0"/>
<text x="195.90" y="333.01" font-size="6.0" text-anchor="end" fill="#2a2a2a" font-weight="normal" font-style="normal" stroke="#2a2a2a" stroke-width="0.12">1</text>
<line x1="198.90" y1="318.52" x2="202.40" y2="318.52" stroke="#111" stroke-width="1.0"/>
<text x="195.90" y="320.82" font-size="6.0" text-anchor="end" fill="#2a2a2a" font-weight="normal" font-style="normal" stroke="#2a2a2a" stroke-width="0.12">2</text>
<line x1="198.90" y1="306.33" x2="202.40" y2="306.33" stroke="#111" stroke-width="1.0"/>
<text x="195.90" y="308.63" font-size="6.0" text-anchor="end" fill="#2a2a2a" font-weight="normal" font-style="normal" stroke="#2a2a2a" stroke-width="0.12">3</text>
<line x1="198.90" y1="294.14" x2="202.40" y2="294.14" stroke="#111" stroke-width="1.0"/>
<text x="195.90" y="296.44" font-size="6.0" text-anchor="end" fill="#2a2a2a" font-weight="normal" font-style="normal" stroke="#2a2a2a" stroke-width="0.12">4</text>
<line x1="198.90" y1="281.95" x2="202.40" y2="281.95" stroke="#111" stroke-width="1.0"/>
<text x="195.90" y="284.25" font-size="6.0" text-anchor="end" fill="#2a2a2a" font-weight="normal" font-style="normal" stroke="#2a2a2a" stroke-width="0.12">5</text>
<line x1="198.90" y1="269.76" x2="202.40" y2="269.76" stroke="#111" stroke-width="1.0"/>
<text x="195.90" y="272.06" font-size="6.0" text-anchor="end" fill="#2a2a2a" font-weight="normal" font-style="normal" stroke="#2a2a2a" stroke-width="0.12">6</text>
<line x1="198.90" y1="257.57" x2="202.40" y2="257.57" stroke="#111" stroke-width="1.0"/>
<text x="195.90" y="259.87" font-size="6.0" text-anchor="end" fill="#2a2a2a" font-weight="normal" font-style="normal" stroke="#2a2a2a" stroke-width="0.12">7</text>
<line x1="198.90" y1="245.38" x2="202.40" y2="245.38" stroke="#111" stroke-width="1.0"/>
<text x="195.90" y="247.68" font-size="6.0" text-anchor="end" fill="#2a2a2a" font-weight="normal" font-style="normal" stroke="#2a2a2a" stroke-width="0.12">8</text>
<line x1="198.90" y1="233.19" x2="202.40" y2="233.19" stroke="#111" stroke-width="1.0"/>
<text x="195.90" y="235.49" font-size="6.0" text-anchor="end" fill="#2a2a2a" font-weight="normal" font-style="normal" stroke="#2a2a2a" stroke-width="0.12">9</text>
<line x1="201.65" y1="342.90" x2="337.00" y2="342.90" stroke="#111" stroke-width="1.5"/>
<line x1="202.40" y1="342.90" x2="202.40" y2="345.90" stroke="#111" stroke-width="0.9"/>
<line x1="235.40" y1="342.90" x2="235.40" y2="345.90" stroke="#111" stroke-width="0.9"/>
<line x1="268.50" y1="342.90" x2="268.50" y2="345.90" stroke="#111" stroke-width="0.9"/>
<line x1="301.50" y1="342.90" x2="301.50" y2="345.90" stroke="#111" stroke-width="0.9"/>
<line x1="334.20" y1="342.90" x2="334.20" y2="345.90" stroke="#111" stroke-width="0.9"/>
<rect x="207.30" y="330.50" width="23.00" height="3.70" fill="none" stroke="#2a3f6e" stroke-width="1.1"/>
<line x1="207.30" y1="332.30" x2="230.30" y2="332.30" stroke="#2a3f6e" stroke-width="1.3"/>
<line x1="251.80" y1="307.20" x2="251.80" y2="316.00" stroke="#2a3f6e" stroke-width="1.4"/>
<line x1="251.80" y1="333.60" x2="251.80" y2="336.00" stroke="#2a3f6e" stroke-width="1.4"/>
<rect x="240.80" y="316.00" width="22.00" height="17.60" fill="none" stroke="#2a3f6e" stroke-width="1.1"/>
<line x1="240.80" y1="326.40" x2="262.80" y2="326.40" stroke="#2a3f6e" stroke-width="1.3"/>
<line x1="284.50" y1="244.60" x2="284.50" y2="281.00" stroke="#2a3f6e" stroke-width="1.4"/>
<line x1="284.50" y1="326.40" x2="284.50" y2="335.00" stroke="#2a3f6e" stroke-width="1.4"/>
<rect x="273.50" y="281.00" width="22.00" height="45.40" fill="none" stroke="#2a3f6e" stroke-width="1.1"/>
<line x1="273.50" y1="318.10" x2="295.50" y2="318.10" stroke="#2a3f6e" stroke-width="1.3"/>
<rect x="306.40" y="315.50" width="22.60" height="14.30" fill="none" stroke="#2a3f6e" stroke-width="1.1"/>
<line x1="306.40" y1="324.00" x2="329.00" y2="324.00" stroke="#2a3f6e" stroke-width="1.3"/>
<circle cx="218.70" cy="323.80" r="1.5" fill="#fff" stroke="#2a3f6e" stroke-width="1.0"/>
<circle cx="222.80" cy="323.80" r="1.5" fill="#fff" stroke="#2a3f6e" stroke-width="1.0"/>
<circle cx="210.00" cy="332.30" r="1.6" fill="#2a3f6e" stroke="#2a3f6e" stroke-width="0.8"/>
<circle cx="213.00" cy="332.00" r="1.6" fill="#2a3f6e" stroke="#2a3f6e" stroke-width="0.8"/>
<circle cx="216.00" cy="332.50" r="1.6" fill="#2a3f6e" stroke="#2a3f6e" stroke-width="0.8"/>
<circle cx="219.00" cy="332.00" r="1.6" fill="#2a3f6e" stroke="#2a3f6e" stroke-width="0.8"/>
<circle cx="222.00" cy="332.50" r="1.6" fill="#2a3f6e" stroke="#2a3f6e" stroke-width="0.8"/>
<circle cx="225.00" cy="332.00" r="1.6" fill="#2a3f6e" stroke="#2a3f6e" stroke-width="0.8"/>
<circle cx="228.00" cy="332.30" r="1.6" fill="#2a3f6e" stroke="#2a3f6e" stroke-width="0.8"/>
<circle cx="218.00" cy="335.20" r="1.5" fill="#2a3f6e" stroke="#2a3f6e" stroke-width="0.8"/>
<circle cx="251.40" cy="281.70" r="1.5" fill="#fff" stroke="#2a3f6e" stroke-width="1.0"/>
<circle cx="249.00" cy="307.50" r="1.5" fill="#fff" stroke="#2a3f6e" stroke-width="1.0"/>
<circle cx="254.50" cy="311.00" r="1.6" fill="#2a3f6e" stroke="#2a3f6e" stroke-width="0.8"/>
<circle cx="260.00" cy="313.50" r="1.6" fill="#2a3f6e" stroke="#2a3f6e" stroke-width="0.8"/>
<circle cx="248.00" cy="322.00" r="1.5" fill="#fff" stroke="#2a3f6e" stroke-width="1.0"/>
<circle cx="253.00" cy="325.00" r="1.5" fill="#fff" stroke="#2a3f6e" stroke-width="1.0"/>
<circle cx="257.50" cy="326.00" r="1.5" fill="#fff" stroke="#2a3f6e" stroke-width="1.0"/>
<circle cx="247.00" cy="330.00" r="1.5" fill="#fff" stroke="#2a3f6e" stroke-width="1.0"/>
<circle cx="252.00" cy="332.00" r="1.5" fill="#fff" stroke="#2a3f6e" stroke-width="1.0"/>
<circle cx="257.00" cy="333.50" r="1.5" fill="#fff" stroke="#2a3f6e" stroke-width="1.0"/>
<circle cx="246.00" cy="336.00" r="1.5" fill="#fff" stroke="#2a3f6e" stroke-width="1.0"/>
<circle cx="251.00" cy="336.00" r="1.5" fill="#fff" stroke="#2a3f6e" stroke-width="1.0"/>
<circle cx="255.50" cy="336.00" r="1.5" fill="#fff" stroke="#2a3f6e" stroke-width="1.0"/>
<circle cx="284.50" cy="244.60" r="1.6" fill="#2a3f6e" stroke="#2a3f6e" stroke-width="0.8"/>
<circle cx="284.50" cy="270.00" r="1.6" fill="#2a3f6e" stroke="#2a3f6e" stroke-width="0.8"/>
<circle cx="284.50" cy="312.10" r="1.5" fill="#fff" stroke="#2a3f6e" stroke-width="1.0"/>
<circle cx="289.00" cy="324.00" r="1.6" fill="#2a3f6e" stroke="#2a3f6e" stroke-width="0.8"/>
<circle cx="284.50" cy="335.00" r="1.6" fill="#2a3f6e" stroke="#2a3f6e" stroke-width="0.8"/>
<circle cx="317.30" cy="293.40" r="1.5" fill="#fff" stroke="#2a3f6e" stroke-width="1.0"/>
<circle cx="316.00" cy="315.50" r="1.6" fill="#2a3f6e" stroke="#2a3f6e" stroke-width="0.8"/>
<circle cx="313.00" cy="317.50" r="1.5" fill="#fff" stroke="#2a3f6e" stroke-width="1.0"/>
<circle cx="321.50" cy="322.50" r="1.6" fill="#2a3f6e" stroke="#2a3f6e" stroke-width="0.8"/>
<circle cx="317.00" cy="326.00" r="1.5" fill="#fff" stroke="#2a3f6e" stroke-width="1.0"/>
<circle cx="313.00" cy="328.50" r="1.5" fill="#fff" stroke="#2a3f6e" stroke-width="1.0"/>
<circle cx="321.00" cy="331.00" r="1.5" fill="#fff" stroke="#2a3f6e" stroke-width="1.0"/>
<circle cx="316.50" cy="332.00" r="1.5" fill="#fff" stroke="#2a3f6e" stroke-width="1.0"/>
<text x="218.50" y="355.20" font-size="5.9" text-anchor="middle" fill="#2a2a2a" font-weight="normal" font-style="normal" textLength="28" lengthAdjust="spacingAndGlyphs" stroke="#2a2a2a" stroke-width="0.1">Normal BM</text>
<text x="218.50" y="362.10" font-size="5.9" text-anchor="middle" fill="#2a2a2a" font-weight="normal" font-style="normal" textLength="13" lengthAdjust="spacingAndGlyphs" stroke="#2a2a2a" stroke-width="0.1">n=10</text>
<text x="251.80" y="355.20" font-size="5.9" text-anchor="middle" fill="#2a2a2a" font-weight="normal" font-style="normal" textLength="26" lengthAdjust="spacingAndGlyphs" stroke="#2a2a2a" stroke-width="0.1">Blast &lt; 5%</text>
<text x="251.80" y="362.10" font-size="5.9" text-anchor="middle" fill="#2a2a2a" font-weight="normal" font-style="normal" textLength="13" lengthAdjust="spacingAndGlyphs" stroke="#2a2a2a" stroke-width="0.1">n=14</text>
<text x="285.00" y="355.20" font-size="5.9" text-anchor="middle" fill="#2a2a2a" font-weight="normal" font-style="normal" textLength="26" lengthAdjust="spacingAndGlyphs" stroke="#2a2a2a" stroke-width="0.1">Blast ≥ 5%</text>
<text x="285.00" y="362.10" font-size="5.9" text-anchor="middle" fill="#2a2a2a" font-weight="normal" font-style="normal" textLength="10" lengthAdjust="spacingAndGlyphs" stroke="#2a2a2a" stroke-width="0.1">n=6</text>
<text x="318.50" y="355.20" font-size="5.9" text-anchor="middle" fill="#2a2a2a" font-weight="normal" font-style="normal" textLength="25" lengthAdjust="spacingAndGlyphs" stroke="#2a2a2a" stroke-width="0.1">Overt AML</text>
<text x="318.50" y="362.10" font-size="5.9" text-anchor="middle" fill="#2a2a2a" font-weight="normal" font-style="normal" textLength="10" lengthAdjust="spacingAndGlyphs" stroke="#2a2a2a" stroke-width="0.1">n=8</text>
<text x="312.00" y="234.10" font-size="5.8" text-anchor="start" fill="#222" font-weight="normal" font-style="normal" stroke="#222" stroke-width="0.15">N.S.</text>
<line x1="360.50" y1="231.00" x2="360.50" y2="343.65" stroke="#111" stroke-width="1.5"/>
<line x1="357.00" y1="342.90" x2="360.50" y2="342.90" stroke="#111" stroke-width="1.0"/>
<text x="354.00" y="345.20" font-size="6.0" text-anchor="end" fill="#2a2a2a" font-weight="normal" font-style="normal" stroke="#2a2a2a" stroke-width="0.12">0</text>
<line x1="357.00" y1="327.40" x2="360.50" y2="327.40" stroke="#111" stroke-width="1.0"/>
<text x="354.00" y="329.70" font-size="6.0" text-anchor="end" fill="#2a2a2a" font-weight="normal" font-style="normal" stroke="#2a2a2a" stroke-width="0.12">5</text>
<line x1="357.00" y1="311.90" x2="360.50" y2="311.90" stroke="#111" stroke-width="1.0"/>
<text x="354.00" y="314.20" font-size="6.0" text-anchor="end" fill="#2a2a2a" font-weight="normal" font-style="normal" stroke="#2a2a2a" stroke-width="0.12">10</text>
<line x1="357.00" y1="296.40" x2="360.50" y2="296.40" stroke="#111" stroke-width="1.0"/>
<text x="354.00" y="298.70" font-size="6.0" text-anchor="end" fill="#2a2a2a" font-weight="normal" font-style="normal" stroke="#2a2a2a" stroke-width="0.12">15</text>
<line x1="357.00" y1="280.90" x2="360.50" y2="280.90" stroke="#111" stroke-width="1.0"/>
<text x="354.00" y="283.20" font-size="6.0" text-anchor="end" fill="#2a2a2a" font-weight="normal" font-style="normal" stroke="#2a2a2a" stroke-width="0.12">20</text>
<line x1="357.00" y1="265.40" x2="360.50" y2="265.40" stroke="#111" stroke-width="1.0"/>
<text x="354.00" y="267.70" font-size="6.0" text-anchor="end" fill="#2a2a2a" font-weight="normal" font-style="normal" stroke="#2a2a2a" stroke-width="0.12">25</text>
<line x1="357.00" y1="249.90" x2="360.50" y2="249.90" stroke="#111" stroke-width="1.0"/>
<text x="354.00" y="252.20" font-size="6.0" text-anchor="end" fill="#2a2a2a" font-weight="normal" font-style="normal" stroke="#2a2a2a" stroke-width="0.12">30</text>
<line x1="357.00" y1="234.40" x2="360.50" y2="234.40" stroke="#111" stroke-width="1.0"/>
<text x="354.00" y="236.70" font-size="6.0" text-anchor="end" fill="#2a2a2a" font-weight="normal" font-style="normal" stroke="#2a2a2a" stroke-width="0.12">35</text>
<line x1="359.75" y1="342.90" x2="495.80" y2="342.90" stroke="#111" stroke-width="1.5"/>
<line x1="361.30" y1="342.90" x2="361.30" y2="345.90" stroke="#111" stroke-width="0.9"/>
<line x1="392.50" y1="342.90" x2="392.50" y2="345.90" stroke="#111" stroke-width="0.9"/>
<line x1="425.70" y1="342.90" x2="425.70" y2="345.90" stroke="#111" stroke-width="0.9"/>
<line x1="459.40" y1="342.90" x2="459.40" y2="345.90" stroke="#111" stroke-width="0.9"/>
<line x1="492.90" y1="342.90" x2="492.90" y2="345.90" stroke="#111" stroke-width="0.9"/>
<rect x="370.50" y="339.00" width="18.60" height="2.60" fill="none" stroke="#2a3f6e" stroke-width="1.1"/>
<line x1="370.50" y1="340.30" x2="389.10" y2="340.30" stroke="#2a3f6e" stroke-width="1.3"/>
<line x1="410.00" y1="330.60" x2="410.00" y2="334.00" stroke="#2a3f6e" stroke-width="1.4"/>
<line x1="410.00" y1="340.60" x2="410.00" y2="342.00" stroke="#2a3f6e" stroke-width="1.4"/>
<rect x="398.70" y="334.00" width="22.60" height="6.60" fill="none" stroke="#2a3f6e" stroke-width="1.1"/>
<line x1="398.70" y1="336.70" x2="421.30" y2="336.70" stroke="#2a3f6e" stroke-width="1.3"/>
<rect x="431.70" y="327.30" width="22.40" height="11.00" fill="none" stroke="#2a3f6e" stroke-width="1.1"/>
<line x1="431.70" y1="336.00" x2="454.10" y2="336.00" stroke="#2a3f6e" stroke-width="1.3"/>
<rect x="464.70" y="303.10" width="22.00" height="26.10" fill="none" stroke="#2a3f6e" stroke-width="1.1"/>
<line x1="464.70" y1="328.30" x2="486.70" y2="328.30" stroke="#2a3f6e" stroke-width="1.3"/>
<circle cx="373.00" cy="340.50" r="1.45" fill="#fff" stroke="#2a3f6e" stroke-width="1.0"/>
<circle cx="377.00" cy="339.50" r="1.45" fill="#fff" stroke="#2a3f6e" stroke-width="1.0"/>
<circle cx="381.00" cy="341.00" r="1.45" fill="#fff" stroke="#2a3f6e" stroke-width="1.0"/>
<circle cx="385.00" cy="340.00" r="1.45" fill="#fff" stroke="#2a3f6e" stroke-width="1.0"/>
<circle cx="379.00" cy="338.00" r="1.45" fill="#fff" stroke="#2a3f6e" stroke-width="1.0"/>
<circle cx="376.00" cy="341.00" r="1.3" fill="#2a3f6e" stroke="#2a3f6e" stroke-width="0.8"/>
<circle cx="383.00" cy="341.00" r="1.3" fill="#2a3f6e" stroke="#2a3f6e" stroke-width="0.8"/>
<circle cx="409.80" cy="308.10" r="1.5" fill="#fff" stroke="#2a3f6e" stroke-width="1.0"/>
<circle cx="410.00" cy="330.60" r="1.6" fill="#2a3f6e" stroke="#2a3f6e" stroke-width="0.8"/>
<circle cx="413.00" cy="330.00" r="1.5" fill="#fff" stroke="#2a3f6e" stroke-width="1.0"/>
<circle cx="403.00" cy="335.00" r="1.5" fill="#fff" stroke="#2a3f6e" stroke-width="1.0"/>
<circle cx="407.00" cy="336.50" r="1.5" fill="#fff" stroke="#2a3f6e" stroke-width="1.0"/>
<circle cx="412.00" cy="335.00" r="1.5" fill="#fff" stroke="#2a3f6e" stroke-width="1.0"/>
<circle cx="417.00" cy="336.50" r="1.5" fill="#fff" stroke="#2a3f6e" stroke-width="1.0"/>
<circle cx="401.00" cy="339.00" r="1.5" fill="#fff" stroke="#2a3f6e" stroke-width="1.0"/>
<circle cx="405.00" cy="340.00" r="1.5" fill="#fff" stroke="#2a3f6e" stroke-width="1.0"/>
<circle cx="410.00" cy="339.50" r="1.5" fill="#fff" stroke="#2a3f6e" stroke-width="1.0"/>
<circle cx="415.00" cy="340.50" r="1.5" fill="#fff" stroke="#2a3f6e" stroke-width="1.0"/>
<circle cx="419.00" cy="339.50" r="1.5" fill="#fff" stroke="#2a3f6e" stroke-width="1.0"/>
<circle cx="408.00" cy="338.00" r="1.6" fill="#2a3f6e" stroke="#2a3f6e" stroke-width="0.8"/>
<circle cx="414.00" cy="338.00" r="1.6" fill="#2a3f6e" stroke="#2a3f6e" stroke-width="0.8"/>
<circle cx="441.00" cy="325.00" r="1.6" fill="#2a3f6e" stroke="#2a3f6e" stroke-width="0.8"/>
<circle cx="445.00" cy="325.00" r="1.6" fill="#2a3f6e" stroke="#2a3f6e" stroke-width="0.8"/>
<circle cx="443.00" cy="333.00" r="1.5" fill="#fff" stroke="#2a3f6e" stroke-width="1.0"/>
<circle cx="438.00" cy="338.00" r="1.5" fill="#fff" stroke="#2a3f6e" stroke-width="1.0"/>
<circle cx="446.00" cy="338.50" r="1.5" fill="#fff" stroke="#2a3f6e" stroke-width="1.0"/>
<circle cx="476.00" cy="245.50" r="1.6" fill="#2a3f6e" stroke="#2a3f6e" stroke-width="0.8"/>
<circle cx="476.00" cy="258.50" r="1.6" fill="#2a3f6e" stroke="#2a3f6e" stroke-width="0.8"/>
<circle cx="476.00" cy="318.00" r="1.6" fill="#2a3f6e" stroke="#2a3f6e" stroke-width="0.8"/>
<circle cx="471.00" cy="330.00" r="1.5" fill="#fff" stroke="#2a3f6e" stroke-width="1.0"/>
<circle cx="476.00" cy="328.00" r="1.5" fill="#fff" stroke="#2a3f6e" stroke-width="1.0"/>
<circle cx="480.50" cy="331.00" r="1.5" fill="#fff" stroke="#2a3f6e" stroke-width="1.0"/>
<path d="M380.40,223.50 V220.00 H476.70 V223.50" fill="none" stroke="#111" stroke-width="1.3"/>
<circle cx="427.15" cy="217.80" r="1.15" fill="#222"/>
<circle cx="429.85" cy="217.80" r="1.15" fill="#222"/>
<path d="M380.40,230.50 V227.00 H443.50 V230.50" fill="none" stroke="#111" stroke-width="1.3"/>
<circle cx="412.00" cy="224.80" r="1.15" fill="#222"/>
<path d="M412.00,239.80 V236.30 H476.70 V239.80" fill="none" stroke="#111" stroke-width="1.3"/>
<circle cx="442.65" cy="234.10" r="1.15" fill="#222"/>
<circle cx="445.35" cy="234.10" r="1.15" fill="#222"/>
<text x="377.00" y="355.20" font-size="5.9" text-anchor="middle" fill="#2a2a2a" font-weight="normal" font-style="normal" textLength="28" lengthAdjust="spacingAndGlyphs" stroke="#2a2a2a" stroke-width="0.1">Normal BM</text>
<text x="377.00" y="362.10" font-size="5.9" text-anchor="middle" fill="#2a2a2a" font-weight="normal" font-style="normal" textLength="13" lengthAdjust="spacingAndGlyphs" stroke="#2a2a2a" stroke-width="0.1">n=10</text>
<text x="409.50" y="355.20" font-size="5.9" text-anchor="middle" fill="#2a2a2a" font-weight="normal" font-style="normal" textLength="26" lengthAdjust="spacingAndGlyphs" stroke="#2a2a2a" stroke-width="0.1">Blast &lt; 5%</text>
<text x="409.50" y="362.10" font-size="5.9" text-anchor="middle" fill="#2a2a2a" font-weight="normal" font-style="normal" textLength="13" lengthAdjust="spacingAndGlyphs" stroke="#2a2a2a" stroke-width="0.1">n=14</text>
<text x="442.70" y="355.20" font-size="5.9" text-anchor="middle" fill="#2a2a2a" font-weight="normal" font-style="normal" textLength="26" lengthAdjust="spacingAndGlyphs" stroke="#2a2a2a" stroke-width="0.1">Blast ≥ 5%</text>
<text x="442.70" y="362.10" font-size="5.9" text-anchor="middle" fill="#2a2a2a" font-weight="normal" font-style="normal" textLength="10" lengthAdjust="spacingAndGlyphs" stroke="#2a2a2a" stroke-width="0.1">n=6</text>
<text x="476.00" y="355.20" font-size="5.9" text-anchor="middle" fill="#2a2a2a" font-weight="normal" font-style="normal" textLength="25" lengthAdjust="spacingAndGlyphs" stroke="#2a2a2a" stroke-width="0.1">Overt AML</text>
<text x="476.00" y="362.10" font-size="5.9" text-anchor="middle" fill="#2a2a2a" font-weight="normal" font-style="normal" textLength="10" lengthAdjust="spacingAndGlyphs" stroke="#2a2a2a" stroke-width="0.1">n=8</text>
<line x1="476.00" y1="303.10" x2="476.00" y2="318.00" stroke="#2a3f6e" stroke-width="1.4"/>
<text transform="translate(26.50,287.00) rotate(-90)" x="0" y="0" font-size="6.8" text-anchor="middle" fill="#222" stroke="#222" stroke-width="0.3" textLength="60" lengthAdjust="spacingAndGlyphs"><tspan font-style="normal">Relative </tspan><tspan font-style="italic">gene</tspan><tspan font-style="normal"> expression</tspan></text>
<text x="8.00" y="391.20" font-size="11.6" text-anchor="start" fill="#000" font-weight="bold" font-style="normal" stroke="#000" stroke-width="0.4">C</text>
<text x="77.20" y="404.30" font-size="7.5" text-anchor="middle" fill="#111" font-weight="bold" font-style="normal" textLength="31.7" lengthAdjust="spacingAndGlyphs" stroke="#111" stroke-width="0.3">Pt no.20</text>
<line x1="45.80" y1="409.50" x2="45.80" y2="496.75" stroke="#111" stroke-width="1.5"/>
<line x1="42.30" y1="496.00" x2="45.80" y2="496.00" stroke="#111" stroke-width="1.0"/>
<text x="39.00" y="498.30" font-size="6.0" text-anchor="end" fill="#2a2a2a" font-weight="normal" font-style="normal" stroke="#2a2a2a" stroke-width="0.12">0</text>
<line x1="42.30" y1="475.20" x2="45.80" y2="475.20" stroke="#111" stroke-width="1.0"/>
<text x="39.00" y="477.50" font-size="6.0" text-anchor="end" fill="#2a2a2a" font-weight="normal" font-style="normal" stroke="#2a2a2a" stroke-width="0.12">10</text>
<line x1="42.30" y1="454.40" x2="45.80" y2="454.40" stroke="#111" stroke-width="1.0"/>
<text x="39.00" y="456.70" font-size="6.0" text-anchor="end" fill="#2a2a2a" font-weight="normal" font-style="normal" stroke="#2a2a2a" stroke-width="0.12">20</text>
<line x1="42.30" y1="433.60" x2="45.80" y2="433.60" stroke="#111" stroke-width="1.0"/>
<text x="39.00" y="435.90" font-size="6.0" text-anchor="end" fill="#2a2a2a" font-weight="normal" font-style="normal" stroke="#2a2a2a" stroke-width="0.12">30</text>
<line x1="42.30" y1="412.80" x2="45.80" y2="412.80" stroke="#111" stroke-width="1.0"/>
<text x="39.00" y="415.10" font-size="6.0" text-anchor="end" fill="#2a2a2a" font-weight="normal" font-style="normal" stroke="#2a2a2a" stroke-width="0.12">40</text>
<line x1="45.05" y1="496.00" x2="108.40" y2="496.00" stroke="#111" stroke-width="1.5"/>
<rect x="50.60" y="488.00" width="10.20" height="8.00" fill="#5aa23a" stroke="#4f8a38" stroke-width="0.6"/>
<rect x="60.80" y="492.20" width="10.20" height="3.80" fill="#c3dcae" stroke="#b3c6a2" stroke-width="0.5"/>
<rect x="84.00" y="424.80" width="10.20" height="71.20" fill="#5aa23a" stroke="#4f8a38" stroke-width="0.6"/>
<rect x="94.20" y="492.80" width="9.90" height="3.20" fill="#c3dcae" stroke="#b3c6a2" stroke-width="0.5"/>
<text x="60.60" y="504.70" font-size="5.9" text-anchor="middle" fill="#2a2a2a" font-weight="normal" font-style="normal" textLength="25.5" lengthAdjust="spacingAndGlyphs" stroke="#2a2a2a" stroke-width="0.1">MDS-EB2</text>
<text x="60.60" y="511.60" font-size="5.9" text-anchor="middle" fill="#2a2a2a" font-weight="normal" font-style="normal" textLength="24.5" lengthAdjust="spacingAndGlyphs" stroke="#2a2a2a" stroke-width="0.1">Bl. 15.0%</text>
<text x="60.60" y="518.50" font-size="5.9" text-anchor="middle" fill="#2a2a2a" font-weight="normal" font-style="normal" textLength="9" lengthAdjust="spacingAndGlyphs" stroke="#2a2a2a" stroke-width="0.1">BM</text>
<text x="93.40" y="504.70" font-size="5.9" text-anchor="middle" fill="#2a2a2a" font-weight="normal" font-style="normal" textLength="26.5" lengthAdjust="spacingAndGlyphs" stroke="#2a2a2a" stroke-width="0.1">Overt AML</text>
<text x="93.40" y="511.60" font-size="5.9" text-anchor="middle" fill="#2a2a2a" font-weight="normal" font-style="normal" textLength="25" lengthAdjust="spacingAndGlyphs" stroke="#2a2a2a" stroke-width="0.1">Bl. 95.8%</text>
<text x="93.40" y="518.50" font-size="5.9" text-anchor="middle" fill="#2a2a2a" font-weight="normal" font-style="normal" textLength="7.5" lengthAdjust="spacingAndGlyphs" stroke="#2a2a2a" stroke-width="0.1">PB</text>
<text transform="translate(26.80,452.80) rotate(-90)" x="0" y="0" font-size="6.8" text-anchor="middle" fill="#222" stroke="#222" stroke-width="0.3" textLength="65" lengthAdjust="spacingAndGlyphs"><tspan font-style="normal">Relative </tspan><tspan font-style="italic">RUNX1</tspan><tspan font-style="normal"> expression</tspan></text>
<text x="185.00" y="404.30" font-size="7.5" text-anchor="middle" fill="#111" font-weight="bold" font-style="normal" textLength="31.0" lengthAdjust="spacingAndGlyphs" stroke="#111" stroke-width="0.3">Pt no.42</text>
<line x1="139.00" y1="409.50" x2="139.00" y2="497.00" stroke="#111" stroke-width="1.5"/>
<line x1="135.50" y1="496.25" x2="139.00" y2="496.25" stroke="#111" stroke-width="1.0"/>
<text x="132.20" y="498.55" font-size="6.0" text-anchor="end" fill="#2a2a2a" font-weight="normal" font-style="normal" stroke="#2a2a2a" stroke-width="0.12">0</text>
<line x1="135.50" y1="479.50" x2="139.00" y2="479.50" stroke="#111" stroke-width="1.0"/>
<text x="132.20" y="481.80" font-size="6.0" text-anchor="end" fill="#2a2a2a" font-weight="normal" font-style="normal" stroke="#2a2a2a" stroke-width="0.12">10</text>
<line x1="135.50" y1="462.75" x2="139.00" y2="462.75" stroke="#111" stroke-width="1.0"/>
<text x="132.20" y="465.05" font-size="6.0" text-anchor="end" fill="#2a2a2a" font-weight="normal" font-style="normal" stroke="#2a2a2a" stroke-width="0.12">20</text>
<line x1="135.50" y1="446.00" x2="139.00" y2="446.00" stroke="#111" stroke-width="1.0"/>
<text x="132.20" y="448.30" font-size="6.0" text-anchor="end" fill="#2a2a2a" font-weight="normal" font-style="normal" stroke="#2a2a2a" stroke-width="0.12">30</text>
<line x1="135.50" y1="429.25" x2="139.00" y2="429.25" stroke="#111" stroke-width="1.0"/>
<text x="132.20" y="431.55" font-size="6.0" text-anchor="end" fill="#2a2a2a" font-weight="normal" font-style="normal" stroke="#2a2a2a" stroke-width="0.12">40</text>
<line x1="135.50" y1="412.50" x2="139.00" y2="412.50" stroke="#111" stroke-width="1.0"/>
<text x="132.20" y="414.80" font-size="6.0" text-anchor="end" fill="#2a2a2a" font-weight="normal" font-style="normal" stroke="#2a2a2a" stroke-width="0.12">50</text>
<line x1="138.25" y1="496.25" x2="231.20" y2="496.25" stroke="#111" stroke-width="1.5"/>
<rect x="143.25" y="492.50" width="10.00" height="3.75" fill="#5aa23a" stroke="#4f8a38" stroke-width="0.6"/>
<rect x="153.25" y="493.25" width="9.75" height="3.00" fill="#c3dcae" stroke="#b3c6a2" stroke-width="0.5"/>
<rect x="175.50" y="480.00" width="9.50" height="16.25" fill="#5aa23a" stroke="#4f8a38" stroke-width="0.6"/>
<rect x="185.00" y="487.50" width="10.00" height="8.75" fill="#c3dcae" stroke="#b3c6a2" stroke-width="0.5"/>
<rect x="207.50" y="426.25" width="9.50" height="70.00" fill="#5aa23a" stroke="#4f8a38" stroke-width="0.6"/>
<rect x="217.00" y="491.25" width="9.75" height="5.00" fill="#c3dcae" stroke="#b3c6a2" stroke-width="0.5"/>
<text x="153.10" y="504.70" font-size="5.9" text-anchor="middle" fill="#2a2a2a" font-weight="normal" font-style="normal" textLength="25.4" lengthAdjust="spacingAndGlyphs" stroke="#2a2a2a" stroke-width="0.1">MDS-EB2</text>
<text x="153.10" y="511.60" font-size="5.9" text-anchor="middle" fill="#2a2a2a" font-weight="normal" font-style="normal" textLength="21" lengthAdjust="spacingAndGlyphs" stroke="#2a2a2a" stroke-width="0.1">Bl. 3.5%</text>
<text x="153.10" y="518.50" font-size="5.9" text-anchor="middle" fill="#2a2a2a" font-weight="normal" font-style="normal" textLength="7.5" lengthAdjust="spacingAndGlyphs" stroke="#2a2a2a" stroke-width="0.1">PB</text>
<text x="185.00" y="504.70" font-size="5.9" text-anchor="middle" fill="#2a2a2a" font-weight="normal" font-style="normal" textLength="27" lengthAdjust="spacingAndGlyphs" stroke="#2a2a2a" stroke-width="0.1">Overt AML</text>
<text x="185.00" y="511.60" font-size="5.9" text-anchor="middle" fill="#2a2a2a" font-weight="normal" font-style="normal" textLength="25" lengthAdjust="spacingAndGlyphs" stroke="#2a2a2a" stroke-width="0.1">Bl. 44.4%</text>
<text x="185.00" y="518.50" font-size="5.9" text-anchor="middle" fill="#2a2a2a" font-weight="normal" font-style="normal" textLength="7.5" lengthAdjust="spacingAndGlyphs" stroke="#2a2a2a" stroke-width="0.1">PB</text>
<text x="216.70" y="504.70" font-size="5.9" text-anchor="middle" fill="#2a2a2a" font-weight="normal" font-style="normal" textLength="27" lengthAdjust="spacingAndGlyphs" stroke="#2a2a2a" stroke-width="0.1">Overt AML</text>
<text x="216.70" y="511.60" font-size="5.9" text-anchor="middle" fill="#2a2a2a" font-weight="normal" font-style="normal" textLength="25" lengthAdjust="spacingAndGlyphs" stroke="#2a2a2a" stroke-width="0.1">Bl. 97.4%</text>
<text x="216.70" y="518.50" font-size="5.9" text-anchor="middle" fill="#2a2a2a" font-weight="normal" font-style="normal" textLength="7.5" lengthAdjust="spacingAndGlyphs" stroke="#2a2a2a" stroke-width="0.1">PB</text>
<text x="290.00" y="404.20" font-size="7.5" text-anchor="middle" fill="#111" font-weight="bold" font-style="normal" textLength="36.4" lengthAdjust="spacingAndGlyphs" stroke="#111" stroke-width="0.3">Pt no.302</text>
<line x1="261.40" y1="409.40" x2="261.40" y2="496.75" stroke="#111" stroke-width="1.5"/>
<line x1="257.90" y1="496.00" x2="261.40" y2="496.00" stroke="#111" stroke-width="1.0"/>
<text x="254.60" y="498.30" font-size="6.0" text-anchor="end" fill="#2a2a2a" font-weight="normal" font-style="normal" stroke="#2a2a2a" stroke-width="0.12">0</text>
<line x1="257.90" y1="475.12" x2="261.40" y2="475.12" stroke="#111" stroke-width="1.0"/>
<text x="254.60" y="477.43" font-size="6.0" text-anchor="end" fill="#2a2a2a" font-weight="normal" font-style="normal" stroke="#2a2a2a" stroke-width="0.12">5</text>
<line x1="257.90" y1="454.25" x2="261.40" y2="454.25" stroke="#111" stroke-width="1.0"/>
<text x="254.60" y="456.55" font-size="6.0" text-anchor="end" fill="#2a2a2a" font-weight="normal" font-style="normal" stroke="#2a2a2a" stroke-width="0.12">10</text>
<line x1="257.90" y1="433.38" x2="261.40" y2="433.38" stroke="#111" stroke-width="1.0"/>
<text x="254.60" y="435.68" font-size="6.0" text-anchor="end" fill="#2a2a2a" font-weight="normal" font-style="normal" stroke="#2a2a2a" stroke-width="0.12">15</text>
<line x1="257.90" y1="412.50" x2="261.40" y2="412.50" stroke="#111" stroke-width="1.0"/>
<text x="254.60" y="414.80" font-size="6.0" text-anchor="end" fill="#2a2a2a" font-weight="normal" font-style="normal" stroke="#2a2a2a" stroke-width="0.12">20</text>
<line x1="260.65" y1="496.00" x2="318.80" y2="496.00" stroke="#111" stroke-width="1.5"/>
<rect x="266.00" y="427.20" width="9.20" height="68.80" fill="#5aa23a" stroke="#4f8a38" stroke-width="0.6"/>
<rect x="275.20" y="481.50" width="9.00" height="14.50" fill="#c3dcae" stroke="#b3c6a2" stroke-width="0.5"/>
<rect x="296.30" y="466.70" width="8.70" height="29.30" fill="#5aa23a" stroke="#4f8a38" stroke-width="0.6"/>
<rect x="305.00" y="471.90" width="9.00" height="24.10" fill="#c3dcae" stroke="#b3c6a2" stroke-width="0.5"/>
<text x="274.60" y="504.90" font-size="5.9" text-anchor="middle" fill="#2a2a2a" font-weight="normal" font-style="normal" textLength="25.3" lengthAdjust="spacingAndGlyphs" stroke="#2a2a2a" stroke-width="0.1">MDS-EB2</text>
<text x="274.60" y="511.80" font-size="5.9" text-anchor="middle" fill="#2a2a2a" font-weight="normal" font-style="normal" textLength="24.6" lengthAdjust="spacingAndGlyphs" stroke="#2a2a2a" stroke-width="0.1">Bl. 19.1%</text>
<text x="274.60" y="518.70" font-size="5.9" text-anchor="middle" fill="#2a2a2a" font-weight="normal" font-style="normal" textLength="9.5" lengthAdjust="spacingAndGlyphs" stroke="#2a2a2a" stroke-width="0.1">BM</text>
<text x="304.60" y="504.90" font-size="5.9" text-anchor="middle" fill="#2a2a2a" font-weight="normal" font-style="normal" textLength="25.2" lengthAdjust="spacingAndGlyphs" stroke="#2a2a2a" stroke-width="0.1">MDS-EB1</text>
<text x="304.60" y="511.80" font-size="5.9" text-anchor="middle" fill="#2a2a2a" font-weight="normal" font-style="normal" textLength="21.6" lengthAdjust="spacingAndGlyphs" stroke="#2a2a2a" stroke-width="0.1">Bl. 8.0%</text>
<text x="304.60" y="518.70" font-size="5.9" text-anchor="middle" fill="#2a2a2a" font-weight="normal" font-style="normal" textLength="9.5" lengthAdjust="spacingAndGlyphs" stroke="#2a2a2a" stroke-width="0.1">BM</text>
<text x="292.70" y="428.90" font-size="5.4" text-anchor="middle" fill="#4a5270" font-weight="normal" font-style="normal" textLength="11.2" lengthAdjust="spacingAndGlyphs" stroke="#4a5270" stroke-width="0.2">AZA</text>
<text x="292.70" y="435.90" font-size="5.6" text-anchor="middle" fill="#3a4a7a" font-weight="normal" font-style="normal" textLength="17.8" lengthAdjust="spacingAndGlyphs" stroke="#3a4a7a" stroke-width="0.2">therapy</text>
<path d="M281,440.8 H298 V438.7 L304.6,443.3 L298,448 V445.8 H281 Z" fill="#223d7a"/>
<rect x="320.40" y="419.40" width="3.50" height="3.50" fill="#5aa23a" stroke="none" stroke-width="1.0"/>
<rect x="320.40" y="430.80" width="3.50" height="3.50" fill="#c3dcae" stroke="none" stroke-width="1.0"/>
<text x="327.80" y="423.60" font-size="6.5" text-anchor="start" fill="#222" font-weight="normal" font-style="italic" textLength="44" lengthAdjust="spacingAndGlyphs" stroke="#222" stroke-width="0.12">RUNX1a/GAPDH</text>
<text x="327.80" y="435.00" font-size="6.5" text-anchor="start" fill="#222" font-weight="normal" font-style="italic" textLength="44" lengthAdjust="spacingAndGlyphs" stroke="#222" stroke-width="0.12">RUNX1b/GAPDH</text>
<text x="8.00" y="548.30" font-size="11.6" text-anchor="start" fill="#000" font-weight="bold" font-style="normal" stroke="#000" stroke-width="0.4">D</text>
<text x="77.50" y="561.80" font-size="7.5" text-anchor="middle" fill="#111" font-weight="bold" font-style="normal" textLength="32.5" lengthAdjust="spacingAndGlyphs" stroke="#111" stroke-width="0.3">Pt no.14</text>
<line x1="45.80" y1="566.30" x2="45.80" y2="660.25" stroke="#111" stroke-width="1.5"/>
<line x1="42.30" y1="659.50" x2="45.80" y2="659.50" stroke="#111" stroke-width="1.0"/>
<text x="39.00" y="661.80" font-size="6.0" text-anchor="end" fill="#2a2a2a" font-weight="normal" font-style="normal" stroke="#2a2a2a" stroke-width="0.12">0</text>
<line x1="42.30" y1="646.64" x2="45.80" y2="646.64" stroke="#111" stroke-width="1.0"/>
<text x="39.00" y="648.94" font-size="6.0" text-anchor="end" fill="#2a2a2a" font-weight="normal" font-style="normal" stroke="#2a2a2a" stroke-width="0.12">10</text>
<line x1="42.30" y1="633.79" x2="45.80" y2="633.79" stroke="#111" stroke-width="1.0"/>
<text x="39.00" y="636.09" font-size="6.0" text-anchor="end" fill="#2a2a2a" font-weight="normal" font-style="normal" stroke="#2a2a2a" stroke-width="0.12">20</text>
<line x1="42.30" y1="620.93" x2="45.80" y2="620.93" stroke="#111" stroke-width="1.0"/>
<text x="39.00" y="623.23" font-size="6.0" text-anchor="end" fill="#2a2a2a" font-weight="normal" font-style="normal" stroke="#2a2a2a" stroke-width="0.12">30</text>
<line x1="42.30" y1="608.07" x2="45.80" y2="608.07" stroke="#111" stroke-width="1.0"/>
<text x="39.00" y="610.37" font-size="6.0" text-anchor="end" fill="#2a2a2a" font-weight="normal" font-style="normal" stroke="#2a2a2a" stroke-width="0.12">40</text>
<line x1="42.30" y1="595.22" x2="45.80" y2="595.22" stroke="#111" stroke-width="1.0"/>
<text x="39.00" y="597.51" font-size="6.0" text-anchor="end" fill="#2a2a2a" font-weight="normal" font-style="normal" stroke="#2a2a2a" stroke-width="0.12">50</text>
<line x1="42.30" y1="582.36" x2="45.80" y2="582.36" stroke="#111" stroke-width="1.0"/>
<text x="39.00" y="584.66" font-size="6.0" text-anchor="end" fill="#2a2a2a" font-weight="normal" font-style="normal" stroke="#2a2a2a" stroke-width="0.12">60</text>
<line x1="42.30" y1="569.50" x2="45.80" y2="569.50" stroke="#111" stroke-width="1.0"/>
<text x="39.00" y="571.80" font-size="6.0" text-anchor="end" fill="#2a2a2a" font-weight="normal" font-style="normal" stroke="#2a2a2a" stroke-width="0.12">70</text>
<line x1="45.05" y1="659.50" x2="109.60" y2="659.50" stroke="#111" stroke-width="1.5"/>
<rect x="51.25" y="653.00" width="9.50" height="6.50" fill="#5ea2df" stroke="#4f88c0" stroke-width="0.6"/>
<rect x="60.75" y="658.30" width="9.25" height="1.20" fill="#bfd7ef" stroke="none" stroke-width="0.5"/>
<rect x="84.25" y="583.75" width="10.75" height="75.75" fill="#5ea2df" stroke="#4f88c0" stroke-width="0.6"/>
<rect x="95.00" y="658.30" width="10.00" height="1.20" fill="#bfd7ef" stroke="none" stroke-width="0.5"/>
<text x="60.80" y="667.80" font-size="5.9" text-anchor="middle" fill="#2a2a2a" font-weight="normal" font-style="normal" textLength="21.5" lengthAdjust="spacingAndGlyphs" stroke="#2a2a2a" stroke-width="0.1">CMML-1</text>
<text x="60.80" y="674.70" font-size="5.9" text-anchor="middle" fill="#2a2a2a" font-weight="normal" font-style="normal" textLength="21" lengthAdjust="spacingAndGlyphs" stroke="#2a2a2a" stroke-width="0.1">Bl. 2.2%</text>
<text x="60.80" y="681.60" font-size="5.9" text-anchor="middle" fill="#2a2a2a" font-weight="normal" font-style="normal" textLength="8.8" lengthAdjust="spacingAndGlyphs" stroke="#2a2a2a" stroke-width="0.1">BM</text>
<text x="94.60" y="667.80" font-size="5.9" text-anchor="middle" fill="#2a2a2a" font-weight="normal" font-style="normal" textLength="26.2" lengthAdjust="spacingAndGlyphs" stroke="#2a2a2a" stroke-width="0.1">Overt AML</text>
<text x="94.60" y="674.70" font-size="5.9" text-anchor="middle" fill="#2a2a2a" font-weight="normal" font-style="normal" textLength="24.6" lengthAdjust="spacingAndGlyphs" stroke="#2a2a2a" stroke-width="0.1">Bl. 76.2%</text>
<text x="94.60" y="681.60" font-size="5.9" text-anchor="middle" fill="#2a2a2a" font-weight="normal" font-style="normal" textLength="7.5" lengthAdjust="spacingAndGlyphs" stroke="#2a2a2a" stroke-width="0.1">PB</text>
<text transform="translate(26.80,613.00) rotate(-90)" x="0" y="0" font-size="6.8" text-anchor="middle" fill="#222" stroke="#222" stroke-width="0.3" textLength="66" lengthAdjust="spacingAndGlyphs"><tspan font-style="normal">Relative </tspan><tspan font-style="italic">RUNX1</tspan><tspan font-style="normal"> expression</tspan></text>
<text x="172.30" y="561.80" font-size="7.5" text-anchor="middle" fill="#111" font-weight="bold" font-style="normal" textLength="32.3" lengthAdjust="spacingAndGlyphs" stroke="#111" stroke-width="0.3">Pt no.32</text>
<line x1="138.80" y1="566.40" x2="138.80" y2="660.05" stroke="#111" stroke-width="1.5"/>
<line x1="135.30" y1="659.30" x2="138.80" y2="659.30" stroke="#111" stroke-width="1.0"/>
<text x="132.00" y="661.60" font-size="6.0" text-anchor="end" fill="#2a2a2a" font-weight="normal" font-style="normal" stroke="#2a2a2a" stroke-width="0.12">0</text>
<line x1="135.30" y1="629.40" x2="138.80" y2="629.40" stroke="#111" stroke-width="1.0"/>
<text x="132.00" y="631.70" font-size="6.0" text-anchor="end" fill="#2a2a2a" font-weight="normal" font-style="normal" stroke="#2a2a2a" stroke-width="0.12">10</text>
<line x1="135.30" y1="599.50" x2="138.80" y2="599.50" stroke="#111" stroke-width="1.0"/>
<text x="132.00" y="601.80" font-size="6.0" text-anchor="end" fill="#2a2a2a" font-weight="normal" font-style="normal" stroke="#2a2a2a" stroke-width="0.12">20</text>
<line x1="135.30" y1="569.60" x2="138.80" y2="569.60" stroke="#111" stroke-width="1.0"/>
<text x="132.00" y="571.90" font-size="6.0" text-anchor="end" fill="#2a2a2a" font-weight="normal" font-style="normal" stroke="#2a2a2a" stroke-width="0.12">30</text>
<line x1="138.05" y1="659.30" x2="206.20" y2="659.30" stroke="#111" stroke-width="1.5"/>
<rect x="144.00" y="644.40" width="10.70" height="14.90" fill="#5ea2df" stroke="#4f88c0" stroke-width="0.6"/>
<rect x="154.70" y="654.50" width="10.70" height="4.80" fill="#bfd7ef" stroke="none" stroke-width="0.5"/>
<rect x="179.20" y="596.80" width="11.00" height="62.50" fill="#5ea2df" stroke="#4f88c0" stroke-width="0.6"/>
<rect x="190.20" y="647.30" width="10.70" height="12.00" fill="#bfd7ef" stroke="none" stroke-width="0.5"/>
<text x="155.00" y="667.80" font-size="5.9" text-anchor="middle" fill="#2a2a2a" font-weight="normal" font-style="normal" textLength="33" lengthAdjust="spacingAndGlyphs" stroke="#2a2a2a" stroke-width="0.1">MDS/MPN-u</text>
<text x="155.00" y="674.70" font-size="5.9" text-anchor="middle" fill="#2a2a2a" font-weight="normal" font-style="normal" textLength="24.6" lengthAdjust="spacingAndGlyphs" stroke="#2a2a2a" stroke-width="0.1">Bl. 13.6%</text>
<text x="155.00" y="681.60" font-size="5.9" text-anchor="middle" fill="#2a2a2a" font-weight="normal" font-style="normal" textLength="8.8" lengthAdjust="spacingAndGlyphs" stroke="#2a2a2a" stroke-width="0.1">BM</text>
<text x="189.20" y="667.80" font-size="5.9" text-anchor="middle" fill="#2a2a2a" font-weight="normal" font-style="normal" textLength="26" lengthAdjust="spacingAndGlyphs" stroke="#2a2a2a" stroke-width="0.1">Overt AML</text>
<text x="189.20" y="674.70" font-size="5.9" text-anchor="middle" fill="#2a2a2a" font-weight="normal" font-style="normal" textLength="24.5" lengthAdjust="spacingAndGlyphs" stroke="#2a2a2a" stroke-width="0.1">Bl. 29.4%</text>
<text x="189.20" y="681.60" font-size="5.9" text-anchor="middle" fill="#2a2a2a" font-weight="normal" font-style="normal" textLength="7.5" lengthAdjust="spacingAndGlyphs" stroke="#2a2a2a" stroke-width="0.1">PB</text>
<rect x="205.20" y="582.90" width="4.00" height="3.60" fill="#4f88c0" stroke="none" stroke-width="1.0"/>
<rect x="205.20" y="593.90" width="4.00" height="3.60" fill="#bfd7ef" stroke="none" stroke-width="1.0"/>
<text x="212.40" y="586.90" font-size="6.5" text-anchor="start" fill="#222" font-weight="normal" font-style="italic" textLength="46" lengthAdjust="spacingAndGlyphs" stroke="#222" stroke-width="0.12">RUNX1a/GAPDH</text>
<text x="212.40" y="598.40" font-size="6.5" text-anchor="start" fill="#222" font-weight="normal" font-style="italic" textLength="46" lengthAdjust="spacingAndGlyphs" stroke="#222" stroke-width="0.12">RUNX1b/GAPDH</text>
<text x="274.80" y="548.80" font-size="11.6" text-anchor="start" fill="#000" font-weight="bold" font-style="normal" stroke="#000" stroke-width="0.4">E</text>
<line x1="311.70" y1="563.00" x2="311.70" y2="660.55" stroke="#111" stroke-width="1.5"/>
<line x1="306.20" y1="564.50" x2="311.70" y2="564.50" stroke="#111" stroke-width="1.0"/>
<text x="304.90" y="566.50" font-size="5.8" text-anchor="end" fill="#222" font-weight="normal" font-style="normal" textLength="18.5" lengthAdjust="spacingAndGlyphs" stroke="#222" stroke-width="0.15">1.E+07</text>
<line x1="306.20" y1="596.00" x2="311.70" y2="596.00" stroke="#111" stroke-width="1.0"/>
<text x="304.90" y="598.00" font-size="5.8" text-anchor="end" fill="#222" font-weight="normal" font-style="normal" textLength="18.5" lengthAdjust="spacingAndGlyphs" stroke="#222" stroke-width="0.15">1.E+06</text>
<line x1="306.20" y1="627.70" x2="311.70" y2="627.70" stroke="#111" stroke-width="1.0"/>
<text x="304.90" y="629.70" font-size="5.8" text-anchor="end" fill="#222" font-weight="normal" font-style="normal" textLength="18.5" lengthAdjust="spacingAndGlyphs" stroke="#222" stroke-width="0.15">1.E+05</text>
<line x1="306.20" y1="659.80" x2="311.70" y2="659.80" stroke="#111" stroke-width="1.0"/>
<text x="304.90" y="661.80" font-size="5.8" text-anchor="end" fill="#222" font-weight="normal" font-style="normal" textLength="18.5" lengthAdjust="spacingAndGlyphs" stroke="#222" stroke-width="0.15">1.E+04</text>
<line x1="310.95" y1="659.80" x2="394.00" y2="659.80" stroke="#111" stroke-width="1.5"/>
<line x1="338.00" y1="659.80" x2="338.00" y2="662.80" stroke="#111" stroke-width="1.0"/>
<line x1="364.50" y1="659.80" x2="364.50" y2="662.80" stroke="#111" stroke-width="1.0"/>
<line x1="391.00" y1="659.80" x2="391.00" y2="662.80" stroke="#111" stroke-width="1.0"/>
<text x="324.80" y="672.00" font-size="6.0" text-anchor="middle" fill="#222" font-weight="normal" font-style="normal" textLength="14" lengthAdjust="spacingAndGlyphs" stroke="#222" stroke-width="0.15">day 0</text>
<text x="351.20" y="672.00" font-size="6.0" text-anchor="middle" fill="#222" font-weight="normal" font-style="normal" textLength="17" lengthAdjust="spacingAndGlyphs" stroke="#222" stroke-width="0.15">day 14</text>
<text x="377.60" y="672.00" font-size="6.0" text-anchor="middle" fill="#222" font-weight="normal" font-style="normal" textLength="17" lengthAdjust="spacingAndGlyphs" stroke="#222" stroke-width="0.15">day 28</text>
<polyline points="324.80,659.80 351.20,637.20 377.60,625.60" fill="none" stroke="#27426f" stroke-width="2.1"/>
<polyline points="324.80,659.80 351.20,616.70 377.60,585.20" fill="none" stroke="#a81e3c" stroke-width="2.1"/>
<circle cx="324.80" cy="659.80" r="2.1" fill="#27426f" stroke="#27426f" stroke-width="0"/>
<circle cx="351.20" cy="637.20" r="2.1" fill="#27426f" stroke="#27426f" stroke-width="0"/>
<circle cx="377.60" cy="625.60" r="2.1" fill="#27426f" stroke="#27426f" stroke-width="0"/>
<rect x="322.70" y="657.70" width="4.20" height="4.20" fill="#a81e3c" stroke="none" stroke-width="1.0"/>
<rect x="349.10" y="614.60" width="4.20" height="4.20" fill="#a81e3c" stroke="none" stroke-width="1.0"/>
<rect x="375.50" y="583.10" width="4.20" height="4.20" fill="#a81e3c" stroke="none" stroke-width="1.0"/>
<line x1="316.00" y1="570.90" x2="329.50" y2="570.90" stroke="#27426f" stroke-width="1.8"/>
<circle cx="322.75" cy="570.90" r="1.7" fill="#27426f" stroke="#27426f" stroke-width="0"/>
<line x1="316.00" y1="580.60" x2="329.50" y2="580.60" stroke="#a81e3c" stroke-width="1.8"/>
<rect x="321.05" y="578.90" width="3.40" height="3.40" fill="#a81e3c" stroke="none" stroke-width="1.0"/>
<text x="332.00" y="573.00" font-size="6.0" text-anchor="start" fill="#222" font-weight="normal" font-style="normal" textLength="17.5" lengthAdjust="spacingAndGlyphs" stroke="#222" stroke-width="0.15">control</text>
<text x="332.00" y="582.70" font-size="6.0" text-anchor="start" fill="#222" font-weight="normal" font-style="normal" textLength="23" lengthAdjust="spacingAndGlyphs" stroke="#222" stroke-width="0.15">RUNX1a</text>
<line x1="430.00" y1="563.50" x2="430.00" y2="660.75" stroke="#111" stroke-width="1.5"/>
<line x1="424.50" y1="565.00" x2="430.00" y2="565.00" stroke="#111" stroke-width="1.0"/>
<text x="423.20" y="567.00" font-size="5.8" text-anchor="end" fill="#222" font-weight="normal" font-style="normal" textLength="18.5" lengthAdjust="spacingAndGlyphs" stroke="#222" stroke-width="0.15">1.E+07</text>
<line x1="424.50" y1="596.50" x2="430.00" y2="596.50" stroke="#111" stroke-width="1.0"/>
<text x="423.20" y="598.50" font-size="5.8" text-anchor="end" fill="#222" font-weight="normal" font-style="normal" textLength="18.5" lengthAdjust="spacingAndGlyphs" stroke="#222" stroke-width="0.15">1.E+06</text>
<line x1="424.50" y1="628.00" x2="430.00" y2="628.00" stroke="#111" stroke-width="1.0"/>
<text x="423.20" y="630.00" font-size="5.8" text-anchor="end" fill="#222" font-weight="normal" font-style="normal" textLength="18.5" lengthAdjust="spacingAndGlyphs" stroke="#222" stroke-width="0.15">1.E+05</text>
<line x1="424.50" y1="660.00" x2="430.00" y2="660.00" stroke="#111" stroke-width="1.0"/>
<text x="423.20" y="662.00" font-size="5.8" text-anchor="end" fill="#222" font-weight="normal" font-style="normal" textLength="18.5" lengthAdjust="spacingAndGlyphs" stroke="#222" stroke-width="0.15">1.E+04</text>
<line x1="429.25" y1="660.00" x2="512.50" y2="660.00" stroke="#111" stroke-width="1.5"/>
<line x1="456.25" y1="660.00" x2="456.25" y2="663.00" stroke="#111" stroke-width="1.0"/>
<line x1="482.50" y1="660.00" x2="482.50" y2="663.00" stroke="#111" stroke-width="1.0"/>
<line x1="508.75" y1="660.00" x2="508.75" y2="663.00" stroke="#111" stroke-width="1.0"/>
<text x="443.00" y="672.00" font-size="6.0" text-anchor="middle" fill="#222" font-weight="normal" font-style="normal" textLength="14" lengthAdjust="spacingAndGlyphs" stroke="#222" stroke-width="0.15">day 0</text>
<text x="469.50" y="672.00" font-size="6.0" text-anchor="middle" fill="#222" font-weight="normal" font-style="normal" textLength="17" lengthAdjust="spacingAndGlyphs" stroke="#222" stroke-width="0.15">day 14</text>
<text x="496.25" y="672.00" font-size="6.0" text-anchor="middle" fill="#222" font-weight="normal" font-style="normal" textLength="17" lengthAdjust="spacingAndGlyphs" stroke="#222" stroke-width="0.15">day 28</text>
<polyline points="443.00,660.00 469.50,627.00 496.25,608.75" fill="none" stroke="#27426f" stroke-width="2.1"/>
<polyline points="443.00,660.00 469.50,605.50 496.25,579.25" fill="none" stroke="#a81e3c" stroke-width="2.1"/>
<circle cx="443.00" cy="660.00" r="2.1" fill="#27426f" stroke="#27426f" stroke-width="0"/>
<circle cx="469.50" cy="627.00" r="2.1" fill="#27426f" stroke="#27426f" stroke-width="0"/>
<circle cx="496.25" cy="608.75" r="2.1" fill="#27426f" stroke="#27426f" stroke-width="0"/>
<rect x="440.90" y="657.90" width="4.20" height="4.20" fill="#a81e3c" stroke="none" stroke-width="1.0"/>
<rect x="467.40" y="603.40" width="4.20" height="4.20" fill="#a81e3c" stroke="none" stroke-width="1.0"/>
<rect x="494.15" y="577.15" width="4.20" height="4.20" fill="#a81e3c" stroke="none" stroke-width="1.0"/>
<line x1="434.50" y1="570.75" x2="448.00" y2="570.75" stroke="#27426f" stroke-width="1.8"/>
<circle cx="441.25" cy="570.75" r="1.7" fill="#27426f" stroke="#27426f" stroke-width="0"/>
<line x1="434.50" y1="580.45" x2="448.00" y2="580.45" stroke="#a81e3c" stroke-width="1.8"/>
<rect x="439.55" y="578.75" width="3.40" height="3.40" fill="#a81e3c" stroke="none" stroke-width="1.0"/>
<text x="450.50" y="572.85" font-size="6.0" text-anchor="start" fill="#222" font-weight="normal" font-style="normal" textLength="17.5" lengthAdjust="spacingAndGlyphs" stroke="#222" stroke-width="0.15">control</text>
<text x="450.50" y="582.55" font-size="6.0" text-anchor="start" fill="#222" font-weight="normal" font-style="normal" textLength="23" lengthAdjust="spacingAndGlyphs" stroke="#222" stroke-width="0.15">RUNX1a</text>
</svg></body></html>
